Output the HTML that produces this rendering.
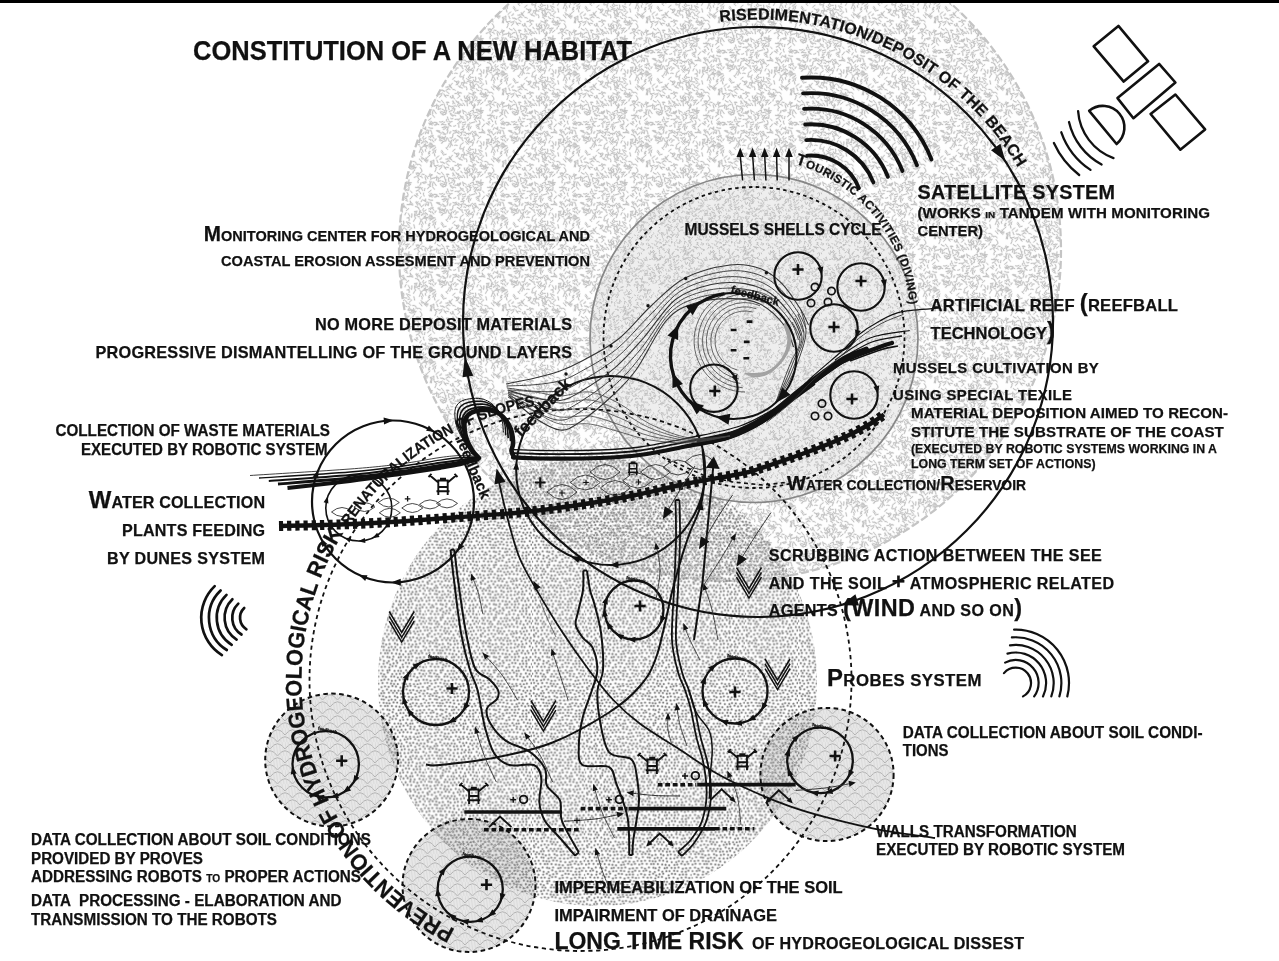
<!DOCTYPE html>
<html lang="en"><head><meta charset="utf-8"><title>Constitution of a new habitat</title>
<style>html,body{margin:0;padding:0;background:#fff;overflow:hidden}svg{display:block;filter:grayscale(1)}text{font-family:"Liberation Sans",Arial,sans-serif;font-weight:bold;fill:#111;stroke:#111;stroke-width:0.25px}</style></head>
<body>
<svg width="1279" height="961" viewBox="0 0 1279 961">
<defs>
<pattern id="pA" width="72" height="72" patternUnits="userSpaceOnUse"><rect width="72" height="72" fill="#fefefe"/><path d="M10.6 60.1Q9.7 60.9 8.7 61.9M45.9 56.5Q47.7 56.6 47.9 57.1M54.6 -1.6Q54.2 1.2 55.2 1.9M54.6 70.4Q54.2 73.2 55.2 73.9M63.3 2.1Q66 1.9 66.5 2.3M63.3 74.1Q66 73.9 66.5 74.3M14.4 30.3Q15.4 30.4 16.8 30.5M15.6 15.7Q16.3 15.5 17.9 17.6M60.8 39Q61.5 40.9 59.8 41.2M9.8 22.6Q9.8 23.8 7.6 25.3M58.8 46.9Q60.7 49.1 60.7 49.6M35.1 42.3Q37.1 42.2 37.6 42.5M13.5 38.1Q12.2 39.4 11.4 40.9M36.7 54.6Q36.6 54.9 36.5 57.5M4.8 50.6Q2.9 49.9 1.5 50.7M76.8 50.6Q74.9 49.9 73.5 50.7M37.4 69.7Q37 70.1 35 71.8M37.4 -2.3Q37 -1.9 35 -0.2M37.4 67.1Q36.4 68.7 36.6 70M37.4 -4.9Q36.4 -3.3 36.6 -2M70.4 -0.8Q69.8 1 67.4 1.6M70.4 71.2Q69.8 73 67.4 73.6M-1.6 -0.8Q-2.2 1 -4.6 1.6M-1.6 71.2Q-2.2 73 -4.6 73.6M58.5 35.9Q57.2 38.2 58 38.8M41.1 12.9Q40.7 14 41 15.9M39.3 43.5Q37.6 44.2 38.3 46.3M14.5 41.3Q13.5 42.8 11.1 42.9M18.9 59.7Q17.2 59.4 17.8 61.5M52.8 17.4Q54 16.9 56 18.5M10.4 37.3Q12 37.9 12.6 38.6M21.8 34Q23 33.4 24.6 34.2M7.9 63.6Q8.1 65.5 7.8 66M-0.1 0.5Q0.7 1.8 3.1 2.1M-0.1 72.5Q0.7 73.8 3.1 74.1M71.9 0.5Q72.7 1.8 75.1 2.1M71.9 72.5Q72.7 73.8 75.1 74.1M47.2 37.9Q49.5 39.3 50.4 40.5M15.5 45.1Q15.6 47 16.6 48.2M6.2 21.3Q3.8 22.4 2.3 21.7M23.4 66.6Q21.8 66.4 21.3 68.7M65 1.6Q63.4 1.9 61.5 3.8M65 73.6Q63.4 73.9 61.5 75.8M63.4 68.9Q62.2 69.7 61.5 71.4M63.4 -3.1Q62.2 -2.3 61.5 -0.6M14.6 47.4Q13.9 48.9 15.1 49.7M20.3 34.3Q22.3 34.8 22.3 37.7M16.3 23.5Q14.1 22.9 12.6 23.7M49.9 60Q49.5 60.8 47.2 60.6M33.6 69.7Q33.9 70.2 36.2 72.2M33.6 -2.3Q33.9 -1.8 36.2 0.2M66.8 14.2Q66.4 15 64.4 16.5M26 20.3Q25.6 21.9 23 21.6M8.8 39.3Q8.7 40.6 10.7 40M55.9 58.2Q57.4 59.4 57.5 61.1M39.8 15.8Q42 16.3 42.3 16.4M65.4 31.5Q67.4 31.8 67.8 34.4M46.4 5.9Q47.2 6 50.1 7.3M70 29.9Q70.5 30.9 72.3 30.7M-2 29.9Q-1.5 30.9 0.3 30.7M6.6 63.7Q8.4 65.1 8.2 67.5M16.6 33.8Q17.1 33.2 19.9 34.9M71.2 19.9Q70.3 20.2 70.3 22.7M-0.8 19.9Q-1.7 20.2 -1.7 22.7M66.9 69.7Q65.1 70.1 64.6 69.9M66.9 -2.3Q65.1 -1.9 64.6 -2.1M71.5 37.7Q70 39.2 69.6 40.5M-0.5 37.7Q-2 39.2 -2.4 40.5M20.9 17.4Q23.3 17.6 23.4 18.1M48.3 46.1Q46.5 45.9 45.5 46.6M24.1 60.6Q22.4 61.1 21.5 61.4M41 42.2Q41.1 41.9 42.4 43.6M38 4.7Q39.2 5.8 41.3 5.5M34.1 61.4Q36.2 61.1 36.9 62.8M69.9 11.1Q69.1 12 66.8 13.8M-2.1 11.1Q-2.9 12 -5.2 13.8M9 36.7Q8.6 36.2 6.4 37.4M64.5 0.6Q66.3 3.3 66.6 4M64.5 72.6Q66.3 75.3 66.6 76M61.2 52.7Q60.4 52.9 59.9 54.7M50.7 47.3Q52.6 48.8 52.2 48.8M40.9 38.3Q39.3 38.6 38.2 39.7M19.2 0.5Q18.7 0.7 17.9 3.1M19.2 72.5Q18.7 72.7 17.9 75.1M24.4 9.5Q26.3 9.7 26.7 10.4M28.1 43.4Q28.9 44.1 29.6 44.8M47.7 30.1Q46.1 31.5 45.7 33.1M34 14.6Q35.5 17.2 34.9 17.8M18.7 46.4Q19.8 47.4 20.9 46.7M12.7 54.7Q11.9 56 10.2 55.6M27.9 49.3Q27.6 51.4 25.6 51.7M68 40.5Q68.4 41.3 70.2 41.8M-4 40.5Q-3.6 41.3 -1.8 41.8M55.5 2.2Q54.2 3.8 53.6 5.3M55.5 74.2Q54.2 75.8 53.6 77.3M9.8 52.3Q12.6 52.9 13.9 52.8M20.4 65.6Q19.9 66.5 18.1 65.9M47.2 48.4Q48.6 50.1 47.8 52.4M56.6 30.5Q56.9 32.2 59 31.8M69.5 7.2Q68.2 8.1 68.6 10M-2.5 7.2Q-3.8 8.1 -3.4 10M16.7 54Q17.7 52.8 19.1 54M46.2 43Q44.7 43.7 44.1 44.2M18.4 40.9Q20.4 42.9 20.9 43.4M70 37.3Q70.7 39.4 70.2 41.2M-2 37.3Q-1.3 39.4 -1.8 41.2M25.8 19.8Q26.7 21 29.4 21.1M40.8 68.1Q38.4 69.5 37.7 70.9M40.8 -3.9Q38.4 -2.5 37.7 -1.1M41.2 21Q41.3 21.2 41.2 23.8M31 31.2Q32.5 32.8 32.7 33.5M35 45.5Q34.3 46.1 35.9 47.8M44.4 62.7Q44.2 63.4 41.7 64.3M61.5 27.9Q59.6 28.7 58.6 30.9M44.2 37.3Q44.4 38.1 45.1 39.1M29.7 60.3Q30.1 62.6 28.7 63.8M36.2 52.1Q35.8 53.5 34.7 55.2M47.1 45.3Q46.1 46.3 43.5 46M58.1 42.4Q59.2 44.5 59.3 44.7M40.5 10.2Q39.1 9.9 37.9 11.7M36.4 52.3Q37.1 52.5 37.1 55M37.3 66.9Q37 68.4 35.7 69.3M37.3 -5.1Q37 -3.6 35.7 -2.7M16.3 14.5Q14 15.7 13.8 15.4M37.7 24.7Q36.9 26.9 37.6 28.3M50.3 57.4Q50.7 58.8 52.5 59.9M13.7 56.3Q11.7 58 11.2 57.4M48.9 60.6Q51.2 60.3 52.9 60.9M32 54.1Q31.4 54 30.1 55.6M71.8 31.5Q70.3 31.4 68.3 32.4M-0.2 31.5Q-1.7 31.4 -3.7 32.4M36.3 9.2Q37.6 10.6 39.5 10.7M18.2 50.7Q16.4 51.5 16.5 52.7M34.6 6.6Q35.7 8.1 36.3 7.8M16.7 1Q16.7 2.8 14.5 4M16.7 73Q16.7 74.8 14.5 76M23 59.7Q23.7 60.1 26.3 61M34.6 26.6Q36.4 27.1 36.7 27.8M42.6 14.2Q42 16.2 40.9 16.3M73.2 2.2Q71.2 3 70 4.5M73.2 74.2Q71.2 75 70 76.5M1.2 2.2Q-0.8 3 -2 4.5M1.2 74.2Q-0.8 75 -2 76.5M41.2 64.3Q42.4 65.3 42.4 68M64.2 0.3Q64.7 0.8 67.3 1.9M64.2 72.3Q64.7 72.8 67.3 73.9M11.1 32.4Q8.2 32.3 7.6 34.3M59.8 2.2Q59.5 1.9 61.3 3.9M59.8 74.2Q59.5 73.9 61.3 75.9M47 52Q46.3 53.3 44.8 55.2M46 68.7Q44.4 70.9 44.9 71M46 -3.3Q44.4 -1.1 44.9 -1M43 23.6Q42.6 24.1 42 26.7M23.8 28.6Q25.3 30.1 27 30.9M52.5 52.1Q50.8 54.7 50.2 54.9M12.6 65.3Q9.8 65.2 9.1 67M57.7 31.9Q57.4 33.9 59.4 35.7M31.3 7.5Q32.8 8.1 32.5 10.9M38.7 5.9Q36.6 6.2 36.9 7.1M51 21.8Q53.5 23.4 54.5 23.3M20.7 29.5Q21.5 30.2 23 31.7M56.7 67.8Q56.8 68.7 56.1 69.9M56.7 -4.2Q56.8 -3.3 56.1 -2.1M72.7 50.9Q71.2 52.7 69.6 52.7M0.7 50.9Q-0.8 52.7 -2.4 52.7M58.6 20.3Q59.9 20 61.1 21.6M23 41.1Q25.2 40.9 26.7 41.7M20.5 23.8Q21.5 25.5 22.4 26.9M10 64.7Q9.7 67 11.4 67M36.6 65.3Q35.3 66.7 32.5 66.2M65 57.1Q66.6 58.9 67.8 58.3M57.4 49.6Q57.5 51 55.5 51.6M30.6 33.3Q28.2 32.6 27.4 33.5M50.6 40.2Q49.3 41.1 48.3 40.9M3.8 5.9Q2.7 6.6 3.4 8.4M75.8 5.9Q74.7 6.6 75.4 8.4M44.5 37.6Q46.4 38.2 46.6 38.2M11.1 62Q13.3 62.6 13.9 62.1M21 62.3Q21.4 64 19.8 66M50.5 38.9Q49.2 40 46.8 39.5M70.4 17.4Q72.5 18.5 73.3 19.5M-1.6 17.4Q0.5 18.5 1.3 19.5M36.8 28.4Q35.3 28 33.3 29.7M60.2 32.3Q61.7 31.8 62.4 33.8M10.4 21.2Q9.8 21.9 6.9 22.4M41.3 38.1Q41.9 40.8 41.1 41.3M28.6 44.3Q29.4 45.6 30.2 46.5M38.1 69.5Q40.8 70.9 41.1 71.1M38.1 -2.5Q40.8 -1.1 41.1 -0.9M40.1 24.6Q41.7 26.9 41.4 28.5M66 66Q64.6 67.3 63.5 67.3M26.7 52.6Q26.7 53 26.9 55.3M24.3 29.8Q24.9 30.8 26.7 30M43.7 20.7Q42.5 21.2 41.2 20.7M50.9 30.2Q50.3 31.2 48.6 32.2M68.9 51.2Q71.1 50.9 71 51.9M-3.1 51.2Q-0.9 50.9 -1 51.9M1.8 16.2Q1.6 18.8 2 20.3M73.8 16.2Q73.6 18.8 74 20.3M60.8 4.5Q60.2 6.5 59.4 8.4M26.1 68Q25.1 67.9 23.9 68.2M26.1 -4Q25.1 -4.1 23.9 -3.8M47.5 7.6Q48.3 9.2 49.2 9.5M62.3 55.7Q61.5 57 61.2 57.6M22.3 36.2Q22 35.6 20.1 36.9M26.5 64.3Q27.6 66.1 29.1 66.1M71.4 18.8Q71.5 20.1 71.5 22.8M-0.6 18.8Q-0.5 20.1 -0.5 22.8M54.7 23.3Q55.9 24.6 54.7 25.3M65.6 68.6Q66.5 70.4 67.7 70.9M65.6 -3.4Q66.5 -1.6 67.7 -1.1M59.5 15.1Q60.4 15.6 61.8 17.8M14.7 38.4Q14.1 40.6 13.4 42.3M9.6 28.4Q10.2 29.1 11.8 31.2M25.7 32.4Q25.7 34.8 27.3 35.3M48.6 38.3Q50.4 38.9 51.3 38.7M57.6 62.9Q58.1 63.3 59.3 65.5M8.6 18Q10.6 18.6 11.6 18.9M48 15.3Q50.2 16.1 50.6 17.2M-0.7 0.1Q-0.7 0.8 1.3 2.8M-0.7 72.1Q-0.7 72.8 1.3 74.8M71.3 0.1Q71.3 0.8 73.3 2.8M71.3 72.1Q71.3 72.8 73.3 74.8M48.2 69.5Q49.1 69.8 49.8 72.4M48.2 -2.5Q49.1 -2.2 49.8 0.4M22.4 8.7Q24.2 8.9 25.1 11.3M4.3 51.8Q5 51.1 6.8 52.6M1.6 8.1Q2.6 9.4 2.9 11.9M73.6 8.1Q74.6 9.4 74.9 11.9M49 18.3Q50 19.3 48.9 21.1M59.3 45.4Q58.7 45.9 56.4 47M49 43.1Q49 44.4 48.7 46.3M64.8 44.5Q64.7 44.8 64.5 46.6M15.7 30Q14.9 31.4 15.3 32.6M32.7 28.6Q34.4 29.1 35.4 29.5M40.4 59.4Q38.1 60.3 38.1 62.1M50.2 10.9Q50 10.5 48 11.5M59.6 59.4Q59.8 61.9 61.6 62.8M25.9 31.1Q26.9 32.1 29 32.3M55.5 43.4Q58.6 43.8 59.6 43.5M28.7 39.9Q28 40.7 25.9 41M29.9 65.6Q29.3 67.1 30.9 68.8M1.6 50.7Q1.8 49.8 3.7 50.7M73.6 50.7Q73.8 49.8 75.7 50.7M35.2 24.1Q37.6 26 38 27.2M56.4 57.7Q57.1 59.2 59.1 60.3M27.3 10.1Q25.3 12.3 24.2 12.7M26.8 47.3Q23.9 47.2 23.1 47.4M28.3 20.4Q27.6 21.5 25.8 22M38.4 2.3Q36.6 4.4 36.3 5.7M36.4 22.9Q33.9 25.5 33.8 26.2M26.1 59.1Q26.6 59.6 29.1 61M71 46.3Q69.8 47.3 68.7 48.2M-1 46.3Q-2.2 47.3 -3.3 48.2M54.4 51.2Q55.8 52.2 56.9 52.9M65.5 59.8Q65.8 59.3 68 61.1M6.7 12Q6.1 12.7 4.1 14.3M12.9 68.9Q10 69.7 9.5 71.1M12.9 -3.1Q10 -2.3 9.5 -0.9M47.2 52.6Q45.4 51.8 44.1 53.4M59.5 70.2Q57.5 70.1 56.2 71.2M59.5 -1.8Q57.5 -1.9 56.2 -0.8M57 67.2Q56 67.4 54.6 67.5M32.5 56.8Q31.3 57.7 29 57.6M45.7 37.3Q46.1 39 48.4 40M28.5 38.9Q29 39.7 27.2 41.7M0.1 67.7Q0.7 69 1.6 69.9M0.1 -4.3Q0.7 -3 1.6 -2.1M72.1 67.7Q72.7 69 73.6 69.9M72.1 -4.3Q72.7 -3 73.6 -2.1M70.1 49.6Q70.9 50.9 71.9 52.3M-1.9 49.6Q-1.1 50.9 -0.1 52.3M29.6 10.7Q29.3 12.8 30.5 13.4M26.3 9Q26.6 11.2 25.5 12.8M51.5 23.6Q52.3 23.7 53.8 24.8M32.5 10.2Q33 11.5 34.9 11.2M38.3 12.4Q38.9 14.4 39.1 16.2M28.6 13.1Q28.9 13 27.8 15.1M54.6 26.2Q52.8 27.6 52.8 28.9M4.9 16.1Q5.7 18.5 5.8 18.6M24.3 59.2Q25.3 60.5 27 61.5M5.2 58.6Q5.9 60.3 7.6 60.5M43.6 43.4Q41.6 45.1 41.7 45.2M24.4 58.3Q21.8 59.3 21 58.7M44.4 16.8Q44.7 18.7 46.8 18.7M50.2 57.1Q50.1 59.5 51.7 60.9M17.2 -0.2Q19 -0 19.5 0.7M17.2 71.8Q19 72 19.5 72.7M33.6 42.9Q35.1 45.2 35.8 45.4M38 61.4Q36 61 34.4 61.8M5.6 59.2Q6.9 58.7 8.5 60.5M15.7 57.2Q16.4 58.3 15.2 61.3M48.5 1.6Q49.9 3.3 49.2 4.5M48.5 73.6Q49.9 75.3 49.2 76.5M13.8 35.5Q13.3 37.6 13.6 37.9M68.7 55.5Q70.6 56.7 72.6 56.3M-3.3 55.5Q-1.4 56.7 0.6 56.3M14 10.3Q11.6 10.6 11.5 11M70.7 58.2Q72 61 72 62.1M-1.3 58.2Q0 61 -0 62.1M48 28Q47.6 28.5 45.1 28.8M65.1 32.8Q65.1 33.5 65.9 36M41.2 59.8Q43.1 61.9 43.7 62.8M31.2 70.9Q29 72.1 28.6 72.9M31.2 -1.1Q29 0.1 28.6 0.9M0.3 63.7Q1.2 65.3 1.7 66.2M72.3 63.7Q73.2 65.3 73.7 66.2M42.7 33.2Q41.8 34.9 41.2 36.7M57.2 -0.4Q57.7 1.2 59.5 0.9M57.2 71.6Q57.7 73.2 59.5 72.9M9.8 6.5Q11.4 9 11.5 9.1M60.3 43.7Q61.6 44.6 62.4 44M19.4 68.2Q19.4 68.8 18.9 71.4M19.4 -3.8Q19.4 -3.2 18.9 -0.6M11.5 66.6Q11.7 67.9 13 68.2M17.9 14Q19.5 14.7 19.9 16.3M63.8 69.7Q62.4 71.3 62 70.8M63.8 -2.3Q62.4 -0.7 62 -1.2M61.6 8.2Q62.5 8.5 62.1 11M23.7 53.6Q22.9 54.4 21.7 54.3M64.1 30.5Q61.9 29.7 61.6 30.7M41.4 7.9Q41.2 9.9 43.1 9.7M24.9 68.5Q25.2 68.2 23.3 70.4M24.9 -3.5Q25.2 -3.8 23.3 -1.6M69.6 1.2Q69.5 3 71.8 3.5M69.6 73.2Q69.5 75 71.8 75.5M-2.4 1.2Q-2.5 3 -0.2 3.5M-2.4 73.2Q-2.5 75 -0.2 75.5M4.5 58.7Q5.4 58.3 7.7 59M34.7 25.1Q34.6 26 35.9 28.4M50.7 21.1Q49.2 20.2 47.8 21.7M2.2 5.9Q2.6 7.4 0.8 9.1M74.2 5.9Q74.6 7.4 72.8 9.1M49.5 24.4Q51.4 25.5 52.4 25.1M68.9 58.3Q68.5 59.9 68.2 61.5M-3.1 58.3Q-3.5 59.9 -3.8 61.5M50.3 40.8Q48.9 42.2 47.6 42.1M49 35.9Q48.9 37.2 48.3 39.6M20.8 43.3Q23.3 42.9 23.8 43.7M33.7 50Q32.3 50.1 30.3 50.8M30.7 44.5Q30.3 46.8 32.3 47.9M52.1 22Q53.6 22.8 54.8 22.1M61.6 14.7Q63.8 15.4 63.8 15.3M10.9 49.5Q8.6 50.8 7.6 49.9M51.6 12.1Q50.6 12.9 49.3 14.2M21.3 28.8Q22 29.2 21 31.8M14.9 65.9Q14.6 66.9 13.8 69.1M26.6 14.2Q29 16 30.3 16.1M-0.8 49.4Q0.5 49.6 1 52M71.2 49.4Q72.5 49.6 73 52M28.1 39.3Q26.3 40.1 25.3 40.5M42.2 19.8Q40.8 20.6 41.8 22.3M6.2 33.5Q6.8 36 6.2 37.4M70.8 17.9Q70.3 19.1 71.7 20.2M-1.2 17.9Q-1.7 19.1 -0.3 20.2M38.8 8.8Q35.8 8.1 34.8 9.8M5.4 52.2Q3.3 52.8 3.5 53.2M22.7 1.3Q23.2 0.9 25.2 1.4M22.7 73.3Q23.2 72.9 25.2 73.4M38.7 17.3Q40.6 17.5 40.6 18.9M39.3 31.3Q38.8 31.8 40.7 33.8M45.2 54.1Q47.1 53.9 47 55.6M55.5 62.4Q56.4 62.1 58.9 64.1M21 23.4Q21.3 25.2 20.2 26.2M9.4 13.8Q9.7 15.3 7.8 15.4M14.8 19.6Q15.2 19.5 16.9 21.6M17.4 12.7Q19 14.4 18.8 15.4M43.8 60.9Q43.7 63 44.8 63.6M63.5 64.5Q62.1 66.3 62.8 66.6M65.7 37.8Q64.4 38 61.8 38.8M32.4 23.9Q31.7 24.4 33.3 26.8M13.7 40.1Q11.3 40.7 10.5 41.5M43.5 9.3Q44.5 10.1 46.8 10.1M11.5 60.4Q12.5 62.6 13.2 62.8M66.6 59.9Q65.2 60.9 65.4 61.7M69.8 51.5Q72 52.3 72.1 53.1M-2.2 51.5Q0 52.3 0.1 53.1M64 60.7Q63.1 61.4 61.4 62.8M7.4 68.2Q8.9 69.4 10 68.4M7.4 -3.8Q8.9 -2.6 10 -3.6M16.3 17.2Q14.9 17.4 13.9 18.4M4.1 67Q2.6 66.9 3 68.6M76.1 67Q74.6 66.9 75 68.6M25.4 63.6Q26.1 64.1 27.7 64.6M66.4 38.4Q64.7 39.7 63.4 39.3M41.9 32.8Q41.7 33.2 41.8 35.6M13.7 54.4Q14 54.6 15.9 55.4M4.1 24.3Q4.4 25 3 27.6M76.1 24.3Q76.4 25 75 27.6M45.6 12.7Q47.2 14.5 47.1 15.6M70.1 0Q69.8 0.2 71.8 2.6M70.1 72Q69.8 72.2 71.8 74.6M-1.9 0Q-2.2 0.2 -0.2 2.6M-1.9 72Q-2.2 72.2 -0.2 74.6M25.4 39.8Q26 40.8 27.4 40.7M41.5 69.9Q41 71.7 40.2 73.6M41.5 -2.1Q41 -0.3 40.2 1.6M28.2 4.8Q30.8 4 31.6 5.5M11.9 22Q12.4 23.1 14 25.2M34.1 67.1Q34 68.3 36.1 69.8M34.1 -4.9Q34 -3.7 36.1 -2.2M66 14.1Q66.9 15.8 67.5 17.2M43.1 47.5Q43.6 48.7 44.5 49.8M40.3 61.5Q41.6 64.1 41.3 64.3M16.2 51.3Q16.4 52.6 18.8 53.9M42.8 49.9Q41.2 50.4 39.2 50.9M1.3 38Q0.1 40 0.6 41.6M73.3 38Q72.1 40 72.6 41.6M5 51.5Q4.2 52.7 2.5 53.1M77 51.5Q76.2 52.7 74.5 53.1M22.9 5.4Q21 6.2 20.8 7.3M60.4 66.7Q59.2 68.7 59.5 70.7M60.4 -5.3Q59.2 -3.3 59.5 -1.3M1.6 16.4Q1 16.9 -0.4 17.2M73.6 16.4Q73 16.9 71.6 17.2M69.9 71.1Q72.3 71.1 72.3 72M69.9 -0.9Q72.3 -0.9 72.3 0M-2.1 71.1Q0.3 71.1 0.3 72M-2.1 -0.9Q0.3 -0.9 0.3 0M13.5 64.4Q13.1 65.5 12.5 66.9M31.5 38.9Q34.1 40 34.4 40.6M55.8 19.9Q57.9 19.4 57.6 20.8M28.5 45.9Q27.2 47.9 26.2 48.4M30.1 59.8Q30.9 59.9 33.6 60.4M31.6 11.2Q30.8 12.4 32.2 15M69.6 30.5Q70.9 31.6 70.9 34.3M-2.4 30.5Q-1.1 31.6 -1.1 34.3M44.3 11.9Q43.8 11.9 41.8 14M68.1 15.9Q67.7 15.6 65.5 17.2M5.3 33.4Q3.9 32.9 2.4 34M77.3 33.4Q75.9 32.9 74.4 34M40.7 30.1Q38.9 29.9 37.3 31.4M10.9 68.8Q11.3 69.2 10.1 71.1M10.9 -3.2Q11.3 -2.8 10.1 -0.9M31.6 62.8Q31.6 62.3 33.7 63.5M26.3 22.4Q26.9 23 27.6 23.9M53.7 20.5Q53.9 21 53 23.1M35 30.5Q35.3 31.7 35.4 33.7M59.6 66.8Q59.9 68.1 59 70.2M59.6 -5.2Q59.9 -3.9 59 -1.8M42.6 31.9Q42.7 32.6 42.7 34.7M17.7 13.2Q18 15.4 17 15.6M56.1 23.4Q54.4 23.9 53.3 23.9M49.1 28.2Q47.1 28.8 46 30.6M29.2 49.3Q28.3 51.3 28 51.3M70.6 42.3Q68.4 42.5 67.6 44.7M-1.4 42.3Q-3.6 42.5 -4.4 44.7M44.8 26.7Q43.9 28.4 43.2 28.7M5.3 28.6Q7.3 30.5 8.1 30.1M53.9 8.8Q54.6 10.9 54.6 12M69.1 67.1Q71.2 67 71 68.6M-2.9 67.1Q-0.8 67 -1 68.6M70 7.5Q68.8 8.2 69.4 9.7M-2 7.5Q-3.2 8.2 -2.6 9.7M56.5 49.6Q56.8 49.8 57.8 51.5M16.8 33.8Q15.9 35.9 17 37.8M40.2 9.2Q41.6 9.9 41.2 11.3M4.8 32.2Q5.2 33.5 4.5 36.2M66 -0.5Q66.2 -0.4 64.8 1.2M66 71.5Q66.2 71.6 64.8 73.2M58.2 57.8Q57.2 57.6 56.6 59.3M51.9 69.9Q52.1 70.7 51.6 73.3M51.9 -2.1Q52.1 -1.3 51.6 1.3M27.8 24.1Q26.4 25.2 25.7 26.1M14.1 4Q15.2 4.6 15.6 5.4M42.5 40.6Q45.2 39.7 46.3 41.2M30.5 54.7Q31.4 57 31.5 58.4M65.5 55.1Q65.1 56.5 64.9 57.1M36.8 40.4Q37.1 42.4 38.5 43.8M30.3 10.6Q30.9 10.6 32.6 10.8M3.6 3.6Q1.8 4.8 0.3 6.1M75.6 3.6Q73.8 4.8 72.3 6.1M43.6 5.2Q44.5 7.3 43.2 8.7M40.7 29.1Q39.2 30.1 37.7 30M32.1 3Q31.2 3.9 31 6.7M6 64.7Q6.6 65.3 9.2 65.8M64.7 15.5Q65.8 17 66.6 18.3M28.6 1.7Q28.5 2.8 27.8 4.2M28.6 73.7Q28.5 74.8 27.8 76.2M18.2 69.9Q19.3 71.8 20.4 73.4M18.2 -2.1Q19.3 -0.2 20.4 1.4M20.3 11.3Q19.6 11.8 18.5 13.7M38 46.2Q36.5 47.9 35.5 48.6M43.5 33.1Q41.9 33.5 42.4 35.6M71.1 63.6Q70.8 65 68.9 64.9M-0.9 63.6Q-1.2 65 -3.1 64.9M37 21.1Q40.2 22.7 40.9 22.5M33.6 52.1Q31.2 53.7 30.6 53M39.1 54.4Q38.6 54.2 38.3 56.4M20.1 67.9Q18.2 69.7 18.2 70.6M20.1 -4.1Q18.2 -2.3 18.2 -1.4M44.7 44.2Q43.5 46.2 42.5 47.6M38.8 41.4Q37.1 41.5 37.5 43.4M2 38.4Q2.3 39.1 4.1 41.5M74 38.4Q74.3 39.1 76.1 41.5M61.5 4.9Q62.5 5.9 63.1 8M8.3 40.2Q9.1 42.6 11.1 43M0.6 42.8Q1.4 44.7 2.5 45.2M72.6 42.8Q73.4 44.7 74.5 45.2M11.6 55.1Q14.1 55.1 15 55.5M60.3 23.7Q62.3 26.2 62 27.3M15.7 66.1Q16.1 67.2 17.3 69.6M20.1 49.6Q17.6 50.2 17 49.8M63.4 56.3Q65.4 56.8 66 56.3M73.1 63.6Q71.4 63.6 70.3 65.7M1.1 63.6Q-0.6 63.6 -1.7 65.7M56.4 32.4Q56.2 33.3 54.3 33.4M63.5 49Q62.8 49.9 64.1 52M40.7 11.3Q41.6 13.7 42.1 14.3M30.7 38.1Q31.5 40.9 31.6 41.6M9.2 7.8Q10.5 8.4 11.2 10.5M18.3 41.5Q18.6 43.5 20.8 44.3M12.6 50.1Q12 50.3 9.4 52.7M48.7 64.6Q48.2 65 46.5 66.5M58.8 29.2Q58 28.4 56.8 29.4M55.1 68Q54.5 68.7 55.2 71.8M55.1 -4Q54.5 -3.3 55.2 -0.2M56.2 29.1Q58.8 28.6 59.5 30M42.9 24.9Q42.9 24.6 45 25.2M22.9 36.9Q23 37.9 21.5 40.5M44 61.9Q46.4 63.4 46.4 64.3M52.4 22.3Q50.1 21.9 48.6 22.4M2.1 33.9Q-0.5 34 -1.4 35.4M74.1 33.9Q71.5 34 70.6 35.4M10.7 18Q11.7 19.7 12.6 19.4M60.4 43.1Q60.8 43.6 62.6 46.4M16.3 55.8Q14.9 57.2 14.8 58M36.6 56.1Q35.8 56.5 37 58.3M37.9 50.5Q38.8 51.4 37.5 52.5M38 13Q39.2 14.8 39.8 14.7M18.4 24.4Q17.8 25.8 19.7 26M68.9 2.7Q69.9 2.4 71.8 3.4M68.9 74.7Q69.9 74.4 71.8 75.4M-3.1 2.7Q-2.1 2.4 -0.2 3.4M-3.1 74.7Q-2.1 74.4 -0.2 75.4M61 12.8Q62.9 14.3 64.3 15M49.2 1.8Q47.5 1.8 47.1 1.9M49.2 73.8Q47.5 73.8 47.1 73.9M59.2 68.3Q59.1 67.5 61.5 68.4M59.2 -3.7Q59.1 -4.5 61.5 -3.6M65.9 4.9Q64.6 5.6 65.6 7.3M20.1 38.5Q18.7 38.6 17.2 39.7M12.3 32.6Q12.3 33.4 13.6 36.4M2.6 21.9Q4.6 23.4 4.8 23.7M74.6 21.9Q76.6 23.4 76.8 23.7M43.7 59.5Q43.2 59 41.7 60.3M28.9 27.3Q28.8 28.5 30.3 28.8" fill="none" stroke="#c2c2c2" stroke-opacity="0.2" stroke-width="2.1" stroke-linecap="round"/><path d="M10.6 60.1Q9.7 60.9 8.7 61.9M45.9 56.5Q47.7 56.6 47.9 57.1M54.6 -1.6Q54.2 1.2 55.2 1.9M54.6 70.4Q54.2 73.2 55.2 73.9M63.3 2.1Q66 1.9 66.5 2.3M63.3 74.1Q66 73.9 66.5 74.3M14.4 30.3Q15.4 30.4 16.8 30.5M15.6 15.7Q16.3 15.5 17.9 17.6M60.8 39Q61.5 40.9 59.8 41.2M9.8 22.6Q9.8 23.8 7.6 25.3M58.8 46.9Q60.7 49.1 60.7 49.6M35.1 42.3Q37.1 42.2 37.6 42.5M13.5 38.1Q12.2 39.4 11.4 40.9M36.7 54.6Q36.6 54.9 36.5 57.5M4.8 50.6Q2.9 49.9 1.5 50.7M76.8 50.6Q74.9 49.9 73.5 50.7M37.4 69.7Q37 70.1 35 71.8M37.4 -2.3Q37 -1.9 35 -0.2M37.4 67.1Q36.4 68.7 36.6 70M37.4 -4.9Q36.4 -3.3 36.6 -2M70.4 -0.8Q69.8 1 67.4 1.6M70.4 71.2Q69.8 73 67.4 73.6M-1.6 -0.8Q-2.2 1 -4.6 1.6M-1.6 71.2Q-2.2 73 -4.6 73.6M58.5 35.9Q57.2 38.2 58 38.8M41.1 12.9Q40.7 14 41 15.9M39.3 43.5Q37.6 44.2 38.3 46.3M14.5 41.3Q13.5 42.8 11.1 42.9M18.9 59.7Q17.2 59.4 17.8 61.5M52.8 17.4Q54 16.9 56 18.5M10.4 37.3Q12 37.9 12.6 38.6M21.8 34Q23 33.4 24.6 34.2M7.9 63.6Q8.1 65.5 7.8 66M-0.1 0.5Q0.7 1.8 3.1 2.1M-0.1 72.5Q0.7 73.8 3.1 74.1M71.9 0.5Q72.7 1.8 75.1 2.1M71.9 72.5Q72.7 73.8 75.1 74.1M47.2 37.9Q49.5 39.3 50.4 40.5M15.5 45.1Q15.6 47 16.6 48.2M6.2 21.3Q3.8 22.4 2.3 21.7M23.4 66.6Q21.8 66.4 21.3 68.7M65 1.6Q63.4 1.9 61.5 3.8M65 73.6Q63.4 73.9 61.5 75.8M63.4 68.9Q62.2 69.7 61.5 71.4M63.4 -3.1Q62.2 -2.3 61.5 -0.6M14.6 47.4Q13.9 48.9 15.1 49.7M20.3 34.3Q22.3 34.8 22.3 37.7M16.3 23.5Q14.1 22.9 12.6 23.7M49.9 60Q49.5 60.8 47.2 60.6M33.6 69.7Q33.9 70.2 36.2 72.2M33.6 -2.3Q33.9 -1.8 36.2 0.2M66.8 14.2Q66.4 15 64.4 16.5M26 20.3Q25.6 21.9 23 21.6M8.8 39.3Q8.7 40.6 10.7 40M55.9 58.2Q57.4 59.4 57.5 61.1M39.8 15.8Q42 16.3 42.3 16.4M65.4 31.5Q67.4 31.8 67.8 34.4M46.4 5.9Q47.2 6 50.1 7.3M70 29.9Q70.5 30.9 72.3 30.7M-2 29.9Q-1.5 30.9 0.3 30.7M6.6 63.7Q8.4 65.1 8.2 67.5M16.6 33.8Q17.1 33.2 19.9 34.9M71.2 19.9Q70.3 20.2 70.3 22.7M-0.8 19.9Q-1.7 20.2 -1.7 22.7M66.9 69.7Q65.1 70.1 64.6 69.9M66.9 -2.3Q65.1 -1.9 64.6 -2.1M71.5 37.7Q70 39.2 69.6 40.5M-0.5 37.7Q-2 39.2 -2.4 40.5M20.9 17.4Q23.3 17.6 23.4 18.1M48.3 46.1Q46.5 45.9 45.5 46.6M24.1 60.6Q22.4 61.1 21.5 61.4M41 42.2Q41.1 41.9 42.4 43.6M38 4.7Q39.2 5.8 41.3 5.5M34.1 61.4Q36.2 61.1 36.9 62.8M69.9 11.1Q69.1 12 66.8 13.8M-2.1 11.1Q-2.9 12 -5.2 13.8M9 36.7Q8.6 36.2 6.4 37.4M64.5 0.6Q66.3 3.3 66.6 4M64.5 72.6Q66.3 75.3 66.6 76M61.2 52.7Q60.4 52.9 59.9 54.7M50.7 47.3Q52.6 48.8 52.2 48.8M40.9 38.3Q39.3 38.6 38.2 39.7M19.2 0.5Q18.7 0.7 17.9 3.1M19.2 72.5Q18.7 72.7 17.9 75.1M24.4 9.5Q26.3 9.7 26.7 10.4M28.1 43.4Q28.9 44.1 29.6 44.8M47.7 30.1Q46.1 31.5 45.7 33.1M34 14.6Q35.5 17.2 34.9 17.8M18.7 46.4Q19.8 47.4 20.9 46.7M12.7 54.7Q11.9 56 10.2 55.6M27.9 49.3Q27.6 51.4 25.6 51.7M68 40.5Q68.4 41.3 70.2 41.8M-4 40.5Q-3.6 41.3 -1.8 41.8M55.5 2.2Q54.2 3.8 53.6 5.3M55.5 74.2Q54.2 75.8 53.6 77.3M9.8 52.3Q12.6 52.9 13.9 52.8M20.4 65.6Q19.9 66.5 18.1 65.9M47.2 48.4Q48.6 50.1 47.8 52.4M56.6 30.5Q56.9 32.2 59 31.8M69.5 7.2Q68.2 8.1 68.6 10M-2.5 7.2Q-3.8 8.1 -3.4 10M16.7 54Q17.7 52.8 19.1 54M46.2 43Q44.7 43.7 44.1 44.2M18.4 40.9Q20.4 42.9 20.9 43.4M70 37.3Q70.7 39.4 70.2 41.2M-2 37.3Q-1.3 39.4 -1.8 41.2M25.8 19.8Q26.7 21 29.4 21.1M40.8 68.1Q38.4 69.5 37.7 70.9M40.8 -3.9Q38.4 -2.5 37.7 -1.1M41.2 21Q41.3 21.2 41.2 23.8M31 31.2Q32.5 32.8 32.7 33.5M35 45.5Q34.3 46.1 35.9 47.8M44.4 62.7Q44.2 63.4 41.7 64.3M61.5 27.9Q59.6 28.7 58.6 30.9M44.2 37.3Q44.4 38.1 45.1 39.1M29.7 60.3Q30.1 62.6 28.7 63.8M36.2 52.1Q35.8 53.5 34.7 55.2M47.1 45.3Q46.1 46.3 43.5 46M58.1 42.4Q59.2 44.5 59.3 44.7M40.5 10.2Q39.1 9.9 37.9 11.7M36.4 52.3Q37.1 52.5 37.1 55M37.3 66.9Q37 68.4 35.7 69.3M37.3 -5.1Q37 -3.6 35.7 -2.7M16.3 14.5Q14 15.7 13.8 15.4M37.7 24.7Q36.9 26.9 37.6 28.3M50.3 57.4Q50.7 58.8 52.5 59.9M13.7 56.3Q11.7 58 11.2 57.4M48.9 60.6Q51.2 60.3 52.9 60.9M32 54.1Q31.4 54 30.1 55.6M71.8 31.5Q70.3 31.4 68.3 32.4M-0.2 31.5Q-1.7 31.4 -3.7 32.4M36.3 9.2Q37.6 10.6 39.5 10.7M18.2 50.7Q16.4 51.5 16.5 52.7M34.6 6.6Q35.7 8.1 36.3 7.8M16.7 1Q16.7 2.8 14.5 4M16.7 73Q16.7 74.8 14.5 76M23 59.7Q23.7 60.1 26.3 61M34.6 26.6Q36.4 27.1 36.7 27.8M42.6 14.2Q42 16.2 40.9 16.3M73.2 2.2Q71.2 3 70 4.5M73.2 74.2Q71.2 75 70 76.5M1.2 2.2Q-0.8 3 -2 4.5M1.2 74.2Q-0.8 75 -2 76.5M41.2 64.3Q42.4 65.3 42.4 68M64.2 0.3Q64.7 0.8 67.3 1.9M64.2 72.3Q64.7 72.8 67.3 73.9M11.1 32.4Q8.2 32.3 7.6 34.3M59.8 2.2Q59.5 1.9 61.3 3.9M59.8 74.2Q59.5 73.9 61.3 75.9M47 52Q46.3 53.3 44.8 55.2M46 68.7Q44.4 70.9 44.9 71M46 -3.3Q44.4 -1.1 44.9 -1M43 23.6Q42.6 24.1 42 26.7M23.8 28.6Q25.3 30.1 27 30.9M52.5 52.1Q50.8 54.7 50.2 54.9M12.6 65.3Q9.8 65.2 9.1 67M57.7 31.9Q57.4 33.9 59.4 35.7M31.3 7.5Q32.8 8.1 32.5 10.9M38.7 5.9Q36.6 6.2 36.9 7.1M51 21.8Q53.5 23.4 54.5 23.3M20.7 29.5Q21.5 30.2 23 31.7M56.7 67.8Q56.8 68.7 56.1 69.9M56.7 -4.2Q56.8 -3.3 56.1 -2.1M72.7 50.9Q71.2 52.7 69.6 52.7M0.7 50.9Q-0.8 52.7 -2.4 52.7M58.6 20.3Q59.9 20 61.1 21.6M23 41.1Q25.2 40.9 26.7 41.7M20.5 23.8Q21.5 25.5 22.4 26.9M10 64.7Q9.7 67 11.4 67M36.6 65.3Q35.3 66.7 32.5 66.2M65 57.1Q66.6 58.9 67.8 58.3M57.4 49.6Q57.5 51 55.5 51.6M30.6 33.3Q28.2 32.6 27.4 33.5M50.6 40.2Q49.3 41.1 48.3 40.9M3.8 5.9Q2.7 6.6 3.4 8.4M75.8 5.9Q74.7 6.6 75.4 8.4M44.5 37.6Q46.4 38.2 46.6 38.2M11.1 62Q13.3 62.6 13.9 62.1M21 62.3Q21.4 64 19.8 66M50.5 38.9Q49.2 40 46.8 39.5M70.4 17.4Q72.5 18.5 73.3 19.5M-1.6 17.4Q0.5 18.5 1.3 19.5M36.8 28.4Q35.3 28 33.3 29.7M60.2 32.3Q61.7 31.8 62.4 33.8M10.4 21.2Q9.8 21.9 6.9 22.4M41.3 38.1Q41.9 40.8 41.1 41.3M28.6 44.3Q29.4 45.6 30.2 46.5M38.1 69.5Q40.8 70.9 41.1 71.1M38.1 -2.5Q40.8 -1.1 41.1 -0.9M40.1 24.6Q41.7 26.9 41.4 28.5M66 66Q64.6 67.3 63.5 67.3M26.7 52.6Q26.7 53 26.9 55.3M24.3 29.8Q24.9 30.8 26.7 30M43.7 20.7Q42.5 21.2 41.2 20.7M50.9 30.2Q50.3 31.2 48.6 32.2M68.9 51.2Q71.1 50.9 71 51.9M-3.1 51.2Q-0.9 50.9 -1 51.9M1.8 16.2Q1.6 18.8 2 20.3M73.8 16.2Q73.6 18.8 74 20.3M60.8 4.5Q60.2 6.5 59.4 8.4M26.1 68Q25.1 67.9 23.9 68.2M26.1 -4Q25.1 -4.1 23.9 -3.8M47.5 7.6Q48.3 9.2 49.2 9.5M62.3 55.7Q61.5 57 61.2 57.6M22.3 36.2Q22 35.6 20.1 36.9M26.5 64.3Q27.6 66.1 29.1 66.1M71.4 18.8Q71.5 20.1 71.5 22.8M-0.6 18.8Q-0.5 20.1 -0.5 22.8M54.7 23.3Q55.9 24.6 54.7 25.3M65.6 68.6Q66.5 70.4 67.7 70.9M65.6 -3.4Q66.5 -1.6 67.7 -1.1M59.5 15.1Q60.4 15.6 61.8 17.8M14.7 38.4Q14.1 40.6 13.4 42.3M9.6 28.4Q10.2 29.1 11.8 31.2M25.7 32.4Q25.7 34.8 27.3 35.3M48.6 38.3Q50.4 38.9 51.3 38.7M57.6 62.9Q58.1 63.3 59.3 65.5M8.6 18Q10.6 18.6 11.6 18.9M48 15.3Q50.2 16.1 50.6 17.2M-0.7 0.1Q-0.7 0.8 1.3 2.8M-0.7 72.1Q-0.7 72.8 1.3 74.8M71.3 0.1Q71.3 0.8 73.3 2.8M71.3 72.1Q71.3 72.8 73.3 74.8M48.2 69.5Q49.1 69.8 49.8 72.4M48.2 -2.5Q49.1 -2.2 49.8 0.4M22.4 8.7Q24.2 8.9 25.1 11.3M4.3 51.8Q5 51.1 6.8 52.6M1.6 8.1Q2.6 9.4 2.9 11.9M73.6 8.1Q74.6 9.4 74.9 11.9M49 18.3Q50 19.3 48.9 21.1M59.3 45.4Q58.7 45.9 56.4 47M49 43.1Q49 44.4 48.7 46.3M64.8 44.5Q64.7 44.8 64.5 46.6M15.7 30Q14.9 31.4 15.3 32.6M32.7 28.6Q34.4 29.1 35.4 29.5M40.4 59.4Q38.1 60.3 38.1 62.1M50.2 10.9Q50 10.5 48 11.5M59.6 59.4Q59.8 61.9 61.6 62.8M25.9 31.1Q26.9 32.1 29 32.3M55.5 43.4Q58.6 43.8 59.6 43.5M28.7 39.9Q28 40.7 25.9 41M29.9 65.6Q29.3 67.1 30.9 68.8M1.6 50.7Q1.8 49.8 3.7 50.7M73.6 50.7Q73.8 49.8 75.7 50.7M35.2 24.1Q37.6 26 38 27.2M56.4 57.7Q57.1 59.2 59.1 60.3M27.3 10.1Q25.3 12.3 24.2 12.7M26.8 47.3Q23.9 47.2 23.1 47.4M28.3 20.4Q27.6 21.5 25.8 22M38.4 2.3Q36.6 4.4 36.3 5.7M36.4 22.9Q33.9 25.5 33.8 26.2M26.1 59.1Q26.6 59.6 29.1 61M71 46.3Q69.8 47.3 68.7 48.2M-1 46.3Q-2.2 47.3 -3.3 48.2M54.4 51.2Q55.8 52.2 56.9 52.9M65.5 59.8Q65.8 59.3 68 61.1M6.7 12Q6.1 12.7 4.1 14.3M12.9 68.9Q10 69.7 9.5 71.1M12.9 -3.1Q10 -2.3 9.5 -0.9M47.2 52.6Q45.4 51.8 44.1 53.4M59.5 70.2Q57.5 70.1 56.2 71.2M59.5 -1.8Q57.5 -1.9 56.2 -0.8M57 67.2Q56 67.4 54.6 67.5M32.5 56.8Q31.3 57.7 29 57.6M45.7 37.3Q46.1 39 48.4 40M28.5 38.9Q29 39.7 27.2 41.7M0.1 67.7Q0.7 69 1.6 69.9M0.1 -4.3Q0.7 -3 1.6 -2.1M72.1 67.7Q72.7 69 73.6 69.9M72.1 -4.3Q72.7 -3 73.6 -2.1M70.1 49.6Q70.9 50.9 71.9 52.3M-1.9 49.6Q-1.1 50.9 -0.1 52.3M29.6 10.7Q29.3 12.8 30.5 13.4M26.3 9Q26.6 11.2 25.5 12.8M51.5 23.6Q52.3 23.7 53.8 24.8M32.5 10.2Q33 11.5 34.9 11.2M38.3 12.4Q38.9 14.4 39.1 16.2M28.6 13.1Q28.9 13 27.8 15.1M54.6 26.2Q52.8 27.6 52.8 28.9M4.9 16.1Q5.7 18.5 5.8 18.6M24.3 59.2Q25.3 60.5 27 61.5M5.2 58.6Q5.9 60.3 7.6 60.5M43.6 43.4Q41.6 45.1 41.7 45.2M24.4 58.3Q21.8 59.3 21 58.7M44.4 16.8Q44.7 18.7 46.8 18.7M50.2 57.1Q50.1 59.5 51.7 60.9M17.2 -0.2Q19 -0 19.5 0.7M17.2 71.8Q19 72 19.5 72.7M33.6 42.9Q35.1 45.2 35.8 45.4M38 61.4Q36 61 34.4 61.8M5.6 59.2Q6.9 58.7 8.5 60.5M15.7 57.2Q16.4 58.3 15.2 61.3M48.5 1.6Q49.9 3.3 49.2 4.5M48.5 73.6Q49.9 75.3 49.2 76.5M13.8 35.5Q13.3 37.6 13.6 37.9M68.7 55.5Q70.6 56.7 72.6 56.3M-3.3 55.5Q-1.4 56.7 0.6 56.3M14 10.3Q11.6 10.6 11.5 11M70.7 58.2Q72 61 72 62.1M-1.3 58.2Q0 61 -0 62.1M48 28Q47.6 28.5 45.1 28.8M65.1 32.8Q65.1 33.5 65.9 36M41.2 59.8Q43.1 61.9 43.7 62.8M31.2 70.9Q29 72.1 28.6 72.9M31.2 -1.1Q29 0.1 28.6 0.9M0.3 63.7Q1.2 65.3 1.7 66.2M72.3 63.7Q73.2 65.3 73.7 66.2M42.7 33.2Q41.8 34.9 41.2 36.7M57.2 -0.4Q57.7 1.2 59.5 0.9M57.2 71.6Q57.7 73.2 59.5 72.9M9.8 6.5Q11.4 9 11.5 9.1M60.3 43.7Q61.6 44.6 62.4 44M19.4 68.2Q19.4 68.8 18.9 71.4M19.4 -3.8Q19.4 -3.2 18.9 -0.6M11.5 66.6Q11.7 67.9 13 68.2M17.9 14Q19.5 14.7 19.9 16.3M63.8 69.7Q62.4 71.3 62 70.8M63.8 -2.3Q62.4 -0.7 62 -1.2M61.6 8.2Q62.5 8.5 62.1 11M23.7 53.6Q22.9 54.4 21.7 54.3M64.1 30.5Q61.9 29.7 61.6 30.7M41.4 7.9Q41.2 9.9 43.1 9.7M24.9 68.5Q25.2 68.2 23.3 70.4M24.9 -3.5Q25.2 -3.8 23.3 -1.6M69.6 1.2Q69.5 3 71.8 3.5M69.6 73.2Q69.5 75 71.8 75.5M-2.4 1.2Q-2.5 3 -0.2 3.5M-2.4 73.2Q-2.5 75 -0.2 75.5M4.5 58.7Q5.4 58.3 7.7 59M34.7 25.1Q34.6 26 35.9 28.4M50.7 21.1Q49.2 20.2 47.8 21.7M2.2 5.9Q2.6 7.4 0.8 9.1M74.2 5.9Q74.6 7.4 72.8 9.1M49.5 24.4Q51.4 25.5 52.4 25.1M68.9 58.3Q68.5 59.9 68.2 61.5M-3.1 58.3Q-3.5 59.9 -3.8 61.5M50.3 40.8Q48.9 42.2 47.6 42.1M49 35.9Q48.9 37.2 48.3 39.6M20.8 43.3Q23.3 42.9 23.8 43.7M33.7 50Q32.3 50.1 30.3 50.8M30.7 44.5Q30.3 46.8 32.3 47.9M52.1 22Q53.6 22.8 54.8 22.1M61.6 14.7Q63.8 15.4 63.8 15.3M10.9 49.5Q8.6 50.8 7.6 49.9M51.6 12.1Q50.6 12.9 49.3 14.2M21.3 28.8Q22 29.2 21 31.8M14.9 65.9Q14.6 66.9 13.8 69.1M26.6 14.2Q29 16 30.3 16.1M-0.8 49.4Q0.5 49.6 1 52M71.2 49.4Q72.5 49.6 73 52M28.1 39.3Q26.3 40.1 25.3 40.5M42.2 19.8Q40.8 20.6 41.8 22.3M6.2 33.5Q6.8 36 6.2 37.4M70.8 17.9Q70.3 19.1 71.7 20.2M-1.2 17.9Q-1.7 19.1 -0.3 20.2M38.8 8.8Q35.8 8.1 34.8 9.8M5.4 52.2Q3.3 52.8 3.5 53.2M22.7 1.3Q23.2 0.9 25.2 1.4M22.7 73.3Q23.2 72.9 25.2 73.4M38.7 17.3Q40.6 17.5 40.6 18.9M39.3 31.3Q38.8 31.8 40.7 33.8M45.2 54.1Q47.1 53.9 47 55.6M55.5 62.4Q56.4 62.1 58.9 64.1M21 23.4Q21.3 25.2 20.2 26.2M9.4 13.8Q9.7 15.3 7.8 15.4M14.8 19.6Q15.2 19.5 16.9 21.6M17.4 12.7Q19 14.4 18.8 15.4M43.8 60.9Q43.7 63 44.8 63.6M63.5 64.5Q62.1 66.3 62.8 66.6M65.7 37.8Q64.4 38 61.8 38.8M32.4 23.9Q31.7 24.4 33.3 26.8M13.7 40.1Q11.3 40.7 10.5 41.5M43.5 9.3Q44.5 10.1 46.8 10.1M11.5 60.4Q12.5 62.6 13.2 62.8M66.6 59.9Q65.2 60.9 65.4 61.7M69.8 51.5Q72 52.3 72.1 53.1M-2.2 51.5Q0 52.3 0.1 53.1M64 60.7Q63.1 61.4 61.4 62.8M7.4 68.2Q8.9 69.4 10 68.4M7.4 -3.8Q8.9 -2.6 10 -3.6M16.3 17.2Q14.9 17.4 13.9 18.4M4.1 67Q2.6 66.9 3 68.6M76.1 67Q74.6 66.9 75 68.6M25.4 63.6Q26.1 64.1 27.7 64.6M66.4 38.4Q64.7 39.7 63.4 39.3M41.9 32.8Q41.7 33.2 41.8 35.6M13.7 54.4Q14 54.6 15.9 55.4M4.1 24.3Q4.4 25 3 27.6M76.1 24.3Q76.4 25 75 27.6M45.6 12.7Q47.2 14.5 47.1 15.6M70.1 0Q69.8 0.2 71.8 2.6M70.1 72Q69.8 72.2 71.8 74.6M-1.9 0Q-2.2 0.2 -0.2 2.6M-1.9 72Q-2.2 72.2 -0.2 74.6M25.4 39.8Q26 40.8 27.4 40.7M41.5 69.9Q41 71.7 40.2 73.6M41.5 -2.1Q41 -0.3 40.2 1.6M28.2 4.8Q30.8 4 31.6 5.5M11.9 22Q12.4 23.1 14 25.2M34.1 67.1Q34 68.3 36.1 69.8M34.1 -4.9Q34 -3.7 36.1 -2.2M66 14.1Q66.9 15.8 67.5 17.2M43.1 47.5Q43.6 48.7 44.5 49.8M40.3 61.5Q41.6 64.1 41.3 64.3M16.2 51.3Q16.4 52.6 18.8 53.9M42.8 49.9Q41.2 50.4 39.2 50.9M1.3 38Q0.1 40 0.6 41.6M73.3 38Q72.1 40 72.6 41.6M5 51.5Q4.2 52.7 2.5 53.1M77 51.5Q76.2 52.7 74.5 53.1M22.9 5.4Q21 6.2 20.8 7.3M60.4 66.7Q59.2 68.7 59.5 70.7M60.4 -5.3Q59.2 -3.3 59.5 -1.3M1.6 16.4Q1 16.9 -0.4 17.2M73.6 16.4Q73 16.9 71.6 17.2M69.9 71.1Q72.3 71.1 72.3 72M69.9 -0.9Q72.3 -0.9 72.3 0M-2.1 71.1Q0.3 71.1 0.3 72M-2.1 -0.9Q0.3 -0.9 0.3 0M13.5 64.4Q13.1 65.5 12.5 66.9M31.5 38.9Q34.1 40 34.4 40.6M55.8 19.9Q57.9 19.4 57.6 20.8M28.5 45.9Q27.2 47.9 26.2 48.4M30.1 59.8Q30.9 59.9 33.6 60.4M31.6 11.2Q30.8 12.4 32.2 15M69.6 30.5Q70.9 31.6 70.9 34.3M-2.4 30.5Q-1.1 31.6 -1.1 34.3M44.3 11.9Q43.8 11.9 41.8 14M68.1 15.9Q67.7 15.6 65.5 17.2M5.3 33.4Q3.9 32.9 2.4 34M77.3 33.4Q75.9 32.9 74.4 34M40.7 30.1Q38.9 29.9 37.3 31.4M10.9 68.8Q11.3 69.2 10.1 71.1M10.9 -3.2Q11.3 -2.8 10.1 -0.9M31.6 62.8Q31.6 62.3 33.7 63.5M26.3 22.4Q26.9 23 27.6 23.9M53.7 20.5Q53.9 21 53 23.1M35 30.5Q35.3 31.7 35.4 33.7M59.6 66.8Q59.9 68.1 59 70.2M59.6 -5.2Q59.9 -3.9 59 -1.8M42.6 31.9Q42.7 32.6 42.7 34.7M17.7 13.2Q18 15.4 17 15.6M56.1 23.4Q54.4 23.9 53.3 23.9M49.1 28.2Q47.1 28.8 46 30.6M29.2 49.3Q28.3 51.3 28 51.3M70.6 42.3Q68.4 42.5 67.6 44.7M-1.4 42.3Q-3.6 42.5 -4.4 44.7M44.8 26.7Q43.9 28.4 43.2 28.7M5.3 28.6Q7.3 30.5 8.1 30.1M53.9 8.8Q54.6 10.9 54.6 12M69.1 67.1Q71.2 67 71 68.6M-2.9 67.1Q-0.8 67 -1 68.6M70 7.5Q68.8 8.2 69.4 9.7M-2 7.5Q-3.2 8.2 -2.6 9.7M56.5 49.6Q56.8 49.8 57.8 51.5M16.8 33.8Q15.9 35.9 17 37.8M40.2 9.2Q41.6 9.9 41.2 11.3M4.8 32.2Q5.2 33.5 4.5 36.2M66 -0.5Q66.2 -0.4 64.8 1.2M66 71.5Q66.2 71.6 64.8 73.2M58.2 57.8Q57.2 57.6 56.6 59.3M51.9 69.9Q52.1 70.7 51.6 73.3M51.9 -2.1Q52.1 -1.3 51.6 1.3M27.8 24.1Q26.4 25.2 25.7 26.1M14.1 4Q15.2 4.6 15.6 5.4M42.5 40.6Q45.2 39.7 46.3 41.2M30.5 54.7Q31.4 57 31.5 58.4M65.5 55.1Q65.1 56.5 64.9 57.1M36.8 40.4Q37.1 42.4 38.5 43.8M30.3 10.6Q30.9 10.6 32.6 10.8M3.6 3.6Q1.8 4.8 0.3 6.1M75.6 3.6Q73.8 4.8 72.3 6.1M43.6 5.2Q44.5 7.3 43.2 8.7M40.7 29.1Q39.2 30.1 37.7 30M32.1 3Q31.2 3.9 31 6.7M6 64.7Q6.6 65.3 9.2 65.8M64.7 15.5Q65.8 17 66.6 18.3M28.6 1.7Q28.5 2.8 27.8 4.2M28.6 73.7Q28.5 74.8 27.8 76.2M18.2 69.9Q19.3 71.8 20.4 73.4M18.2 -2.1Q19.3 -0.2 20.4 1.4M20.3 11.3Q19.6 11.8 18.5 13.7M38 46.2Q36.5 47.9 35.5 48.6M43.5 33.1Q41.9 33.5 42.4 35.6M71.1 63.6Q70.8 65 68.9 64.9M-0.9 63.6Q-1.2 65 -3.1 64.9M37 21.1Q40.2 22.7 40.9 22.5M33.6 52.1Q31.2 53.7 30.6 53M39.1 54.4Q38.6 54.2 38.3 56.4M20.1 67.9Q18.2 69.7 18.2 70.6M20.1 -4.1Q18.2 -2.3 18.2 -1.4M44.7 44.2Q43.5 46.2 42.5 47.6M38.8 41.4Q37.1 41.5 37.5 43.4M2 38.4Q2.3 39.1 4.1 41.5M74 38.4Q74.3 39.1 76.1 41.5M61.5 4.9Q62.5 5.9 63.1 8M8.3 40.2Q9.1 42.6 11.1 43M0.6 42.8Q1.4 44.7 2.5 45.2M72.6 42.8Q73.4 44.7 74.5 45.2M11.6 55.1Q14.1 55.1 15 55.5M60.3 23.7Q62.3 26.2 62 27.3M15.7 66.1Q16.1 67.2 17.3 69.6M20.1 49.6Q17.6 50.2 17 49.8M63.4 56.3Q65.4 56.8 66 56.3M73.1 63.6Q71.4 63.6 70.3 65.7M1.1 63.6Q-0.6 63.6 -1.7 65.7M56.4 32.4Q56.2 33.3 54.3 33.4M63.5 49Q62.8 49.9 64.1 52M40.7 11.3Q41.6 13.7 42.1 14.3M30.7 38.1Q31.5 40.9 31.6 41.6M9.2 7.8Q10.5 8.4 11.2 10.5M18.3 41.5Q18.6 43.5 20.8 44.3M12.6 50.1Q12 50.3 9.4 52.7M48.7 64.6Q48.2 65 46.5 66.5M58.8 29.2Q58 28.4 56.8 29.4M55.1 68Q54.5 68.7 55.2 71.8M55.1 -4Q54.5 -3.3 55.2 -0.2M56.2 29.1Q58.8 28.6 59.5 30M42.9 24.9Q42.9 24.6 45 25.2M22.9 36.9Q23 37.9 21.5 40.5M44 61.9Q46.4 63.4 46.4 64.3M52.4 22.3Q50.1 21.9 48.6 22.4M2.1 33.9Q-0.5 34 -1.4 35.4M74.1 33.9Q71.5 34 70.6 35.4M10.7 18Q11.7 19.7 12.6 19.4M60.4 43.1Q60.8 43.6 62.6 46.4M16.3 55.8Q14.9 57.2 14.8 58M36.6 56.1Q35.8 56.5 37 58.3M37.9 50.5Q38.8 51.4 37.5 52.5M38 13Q39.2 14.8 39.8 14.7M18.4 24.4Q17.8 25.8 19.7 26M68.9 2.7Q69.9 2.4 71.8 3.4M68.9 74.7Q69.9 74.4 71.8 75.4M-3.1 2.7Q-2.1 2.4 -0.2 3.4M-3.1 74.7Q-2.1 74.4 -0.2 75.4M61 12.8Q62.9 14.3 64.3 15M49.2 1.8Q47.5 1.8 47.1 1.9M49.2 73.8Q47.5 73.8 47.1 73.9M59.2 68.3Q59.1 67.5 61.5 68.4M59.2 -3.7Q59.1 -4.5 61.5 -3.6M65.9 4.9Q64.6 5.6 65.6 7.3M20.1 38.5Q18.7 38.6 17.2 39.7M12.3 32.6Q12.3 33.4 13.6 36.4M2.6 21.9Q4.6 23.4 4.8 23.7M74.6 21.9Q76.6 23.4 76.8 23.7M43.7 59.5Q43.2 59 41.7 60.3M28.9 27.3Q28.8 28.5 30.3 28.8" fill="none" stroke="#c2c2c2" stroke-width="1.0" stroke-linecap="round"/></pattern>
<pattern id="pD" width="60" height="60" patternUnits="userSpaceOnUse"><rect width="60" height="60" fill="#eeeeee"/><path d="M38.4 43.8Q37.9 45.5 36.4 45.3M2.8 27.8Q2.7 27 0.7 28.1M62.8 27.8Q62.7 27 60.7 28.1M28.3 13.8Q27 14.1 28 15.8M17.3 54.5Q17.5 54.1 16.2 55.5M35.8 7.6Q36.3 6.9 38.3 7.6M58.2 51.3Q59 52.8 59.7 53.3M-1.8 51.3Q-1 52.8 -0.3 53.3M13 55.4Q13.2 56 11.6 57.5M13 -4.6Q13.2 -4 11.6 -2.5M21.1 9.7Q21.2 10.2 22.3 10.2M-0.2 40Q1 40.6 0.6 41.4M59.8 40Q61 40.6 60.6 41.4M19.3 28.4Q20.1 27.7 18.6 29.4M43.8 50.6Q44.7 50.9 46.1 50.8M-0.5 2.1Q-0.2 3.4 1.6 3.5M-0.5 62.1Q-0.2 63.4 1.6 63.5M59.5 2.1Q59.8 3.4 61.6 3.5M59.5 62.1Q59.8 63.4 61.6 63.5M55.4 55.8Q55.8 57.2 56.2 57.3M55.4 -4.2Q55.8 -2.8 56.2 -2.7M7.4 44.2Q5.4 46 5.5 45.6M5.9 19.3Q5.1 21.5 5 21.6M32.3 18.1Q31.7 17.9 33.1 19.4M40.8 59.5Q42.5 59.9 41.9 60.1M40.8 -0.5Q42.5 -0.1 41.9 0.1M24.7 13.1Q24.2 14.1 24 15.4M2.4 54.9Q4.2 54.1 4.3 55.1M62.4 54.9Q64.2 54.1 64.3 55.1M44.4 55.9Q43 56.8 43.4 58M44.4 -4.1Q43 -3.2 43.4 -2M8.4 50Q10.2 51.5 9.5 51.4M58.5 26.1Q58.5 26.7 58.6 28.3M-1.5 26.1Q-1.5 26.7 -1.4 28.3M23.7 7.6Q25.3 9.1 24.7 10M29.2 20.1Q30.6 21.2 30.7 20.5M22.5 46.5Q22.1 47.8 20.9 47.9M21.2 41.5Q22.5 42.7 22.4 43M18.1 55.8Q16.5 56.8 17.2 57.6M18.1 -4.2Q16.5 -3.2 17.2 -2.4M14.9 39.1Q15.4 41 15.2 41.5M21.7 37.8Q20.5 39.5 20.1 39.5M53.5 41.2Q52.2 41.4 50.9 41.4M10.9 50Q10.4 50.7 9.1 50.4M44.6 9.7Q44.2 10.1 43 11M37.9 45.5Q36.3 45.7 37 47.5M25.6 38.3Q26.8 37.9 27.3 39.7M27.6 13.5Q27.9 12.8 29 13.7M11.5 1.3Q11.9 2.4 11.7 3M11.5 61.3Q11.9 62.4 11.7 63M13.4 54.2Q13.7 54 15.2 54.2M6.7 49.3Q7.2 48.9 7.1 50.5M33 19.1Q33.5 20.2 32.4 21.6M48.5 37.9Q49 38.7 49.1 39.2M57.7 57.3Q58.4 56.9 57.1 58.9M57.7 -2.7Q58.4 -3.1 57.1 -1.1M-2.3 57.3Q-1.6 56.9 -2.9 58.9M-2.3 -2.7Q-1.6 -3.1 -2.9 -1.1M6.7 33.3Q6.8 34.9 6.2 34.6M21.9 25.4Q23.7 25.6 23.2 26.4M57.9 54.1Q58.8 54.8 57.4 55.6M-2.1 54.1Q-1.2 54.8 -2.6 55.6M25.9 19.1Q24.4 19.1 24 19.2M7.2 36.5Q8 38.1 7.5 38.1M-0 31Q1.5 31.3 1.6 32.9M60 31Q61.5 31.3 61.6 32.9M16.9 9.3Q16.3 9.2 15.3 9.3M39.2 35.7Q39.3 35.8 38.2 36.7M31.4 19.4Q31.9 19.8 32.6 20.9M43.9 35.4Q44.6 36.4 45.5 35.5M52.1 32.7Q53.1 32.9 54.4 32.8M42.4 36.7Q42.2 37.7 42.6 39.2M50.4 10.8Q50.1 12.6 51.8 12.7M41 25.1Q42.7 25.1 42.4 26.9M28.7 32.1Q27.9 33.2 28.7 33.8M47.8 3.3Q49.4 4.5 49.6 4.9M2.8 43.3Q2 42.3 0.2 43.4M62.8 43.3Q62 42.3 60.2 43.4M51.1 12Q51 12.3 50 14.3M16.6 54.6Q17.3 54.3 18.5 55.5M36.5 2.3Q36.3 1.6 38.2 2.9M36.5 62.3Q36.3 61.6 38.2 62.9M35.2 44.3Q34.4 44.1 33.9 44.8M36.9 29.2Q34.9 29.8 35.2 29.5M9.1 36.6Q9.2 38.2 9 39.1M15 32.3Q15.8 32.2 16.6 33.9M14.6 21.7Q14.6 22.6 13.6 22.8M4.5 39.9Q5.3 39.4 5.8 40.3M52 27.8Q51.5 29.4 53.2 29.8M4.3 8.9Q2.6 8.1 2.2 9.2M64.3 8.9Q62.6 8.1 62.2 9.2M59 39.5Q58.7 39.6 57.8 40.3M-1 39.5Q-1.3 39.6 -2.2 40.3M14.4 19.2Q13.8 19.1 13.8 20.8M50.6 38.4Q50.7 38.9 49.1 39.4M36.2 33.8Q34.6 33.3 35 35M13 2Q12.8 1.2 11.3 2.7M13 62Q12.8 61.2 11.3 62.7M28.5 52.5Q28.1 52.4 27.9 54.2M8.9 8.7Q10.2 8.7 9.6 10.3M14.5 16.3Q14.6 16.6 15.9 17M1.4 54.3Q2.4 55.9 2.4 56.6M61.4 54.3Q62.4 55.9 62.4 56.6M27.3 56.3Q27.8 57.1 29.3 57.1M27.3 -3.7Q27.8 -2.9 29.3 -2.9M43.3 9.4Q43.1 8.8 44.3 10.2M23.7 57.7Q24 57.9 24.4 59.2M23.7 -2.3Q24 -2.1 24.4 -0.8M43.3 42.7Q44.4 44.1 44.6 43.5M39.4 25.8Q37.7 26.5 38.1 25.9M24.8 1.4Q24.7 2.3 24.4 4M24.8 61.4Q24.7 62.3 24.4 64M6.5 4Q6.7 3.2 4.7 4.6M14.4 2.4Q14 2.8 14.8 3.6M14.4 62.4Q14 62.8 14.8 63.6M17.1 2.9Q17.6 3.1 19.6 3.2M17.1 62.9Q17.6 63.1 19.6 63.2M23.4 31.7Q23.2 32 24.9 32.1M56 35.6Q54.1 36 54.6 36.2M28.8 33.3Q29.7 35.3 29.6 35.2M19.1 26.5Q17.5 26.5 17.8 27.3M5.9 45.9Q4.4 45.3 4.6 46.8M14.5 4.1Q14.1 4 14.9 6M41.4 2.4Q41.7 1.9 42.7 3.4M41.4 62.4Q41.7 61.9 42.7 63.4M25.9 18.1Q26.2 19.2 24.5 19.5M45.4 33.3Q46 35.6 45.8 35.6M42.9 41.2Q43.4 41.2 44.5 42.9M3.2 9.4Q3.4 9.1 4.7 10.9M63.2 9.4Q63.4 9.1 64.7 10.9M45.2 33.4Q44.9 33.1 46.5 33.5M51.9 56.2Q51.4 56.6 51.3 57.7M51.9 -3.8Q51.4 -3.4 51.3 -2.3M20.1 -0.4Q20.4 -0.2 19.5 1.9M20.1 59.6Q20.4 59.8 19.5 61.9M32.4 9.5Q32.9 11 31.3 11M8 18.8Q6.9 18.9 6.2 19.3M46.2 54.9Q46.3 55.2 45.9 57.4M46.2 -5.1Q46.3 -4.8 45.9 -2.6M47.6 25Q47.7 25.4 50.1 25.4M28.7 52.2Q28.4 52.2 29.2 53.6M34.3 20.9Q33.4 20.8 33.2 22M59.9 49.9Q58.7 49.6 58 50.9M-0.1 49.9Q-1.3 49.6 -2 50.9M49.2 29.3Q48.9 29.9 50.6 29.5M54.7 11.5Q54.4 12.8 53.3 12.5M37.2 47.5Q37.4 48.2 37.6 48.6M10.7 22.8Q10.6 23.1 11.4 23.9M28.2 41Q29.3 43.2 29 43.4M41.7 39.1Q41.2 40.4 41.4 41.4M40.4 30.8Q39.8 31 41.2 31.8M35.3 44.9Q35.9 45 34.3 46.2M43.7 3.6Q44.1 5.3 42.2 5.1M42 49.5Q40.6 50.3 40.6 51M54.7 14.3Q53.5 13.2 52.8 14.4M24 9.6Q24.4 11 22.8 11.8M23.8 5.7Q23.7 6.2 22.6 7.4M52.8 12.1Q53.5 13.7 53.7 13.4M10.6 37.5Q9 38.1 9.5 38.5M50.4 52Q49.6 52.8 49.2 53.4M53.6 17.3Q55.4 17.4 54.9 18.9M2 5.9Q1.1 6.2 1.6 7.9M62 5.9Q61.1 6.2 61.6 7.9M36.3 37.9Q34.6 38.7 35 39.7M49.4 56.4Q50.4 58.5 50.7 58.4M49.4 -3.6Q50.4 -1.5 50.7 -1.6M14.6 41.4Q12.8 41.1 12.9 42.3M8.5 5.1Q8.5 6.2 10.3 6M45.1 48.3Q45.2 50.1 43.3 49.6M36.9 57.7Q36.5 57.2 38.1 58.1M36.9 -2.3Q36.5 -2.8 38.1 -1.9M23.1 26.6Q21.5 27.3 21.9 28.5M31.7 22.1Q32.3 23 33.6 22.9M30.4 57.7Q30.4 58.3 29.1 57.9M30.4 -2.3Q30.4 -1.7 29.1 -2.1M17.7 6.2Q18.3 8 17.8 7.9M22.9 16.3Q23.6 17.6 22.9 18.5M18.6 19.8Q16.7 20 16.9 20.7M13.5 39.8Q13.3 39.9 15 40.2M58.6 31.3Q58.1 32.1 59.5 33.7M-1.4 31.3Q-1.9 32.1 -0.5 33.7M49.3 -0.3Q47.5 -0.3 48 0.9M49.3 59.7Q47.5 59.7 48 60.9M27.5 22.3Q26.8 24.1 27.5 23.6M25.8 28.1Q27.6 28.8 27.3 28.5M30.1 2.1Q30.3 3.4 30.8 4.3M30.1 62.1Q30.3 63.4 30.8 64.3M54.4 38.1Q53 39.4 53.9 39.3M25.9 51.8Q24.5 53.7 23.7 53.1M44.4 53Q45.2 54.6 46.4 54M59.5 12.2Q59.6 12.5 59.8 13.8M-0.5 12.2Q-0.4 12.5 -0.2 13.8M39.2 6.9Q39 7.1 40.8 7.9M53.3 52.8Q54.6 54.2 54.3 53.5M35 7.3Q37 7.1 36.9 9M10.3 24.9Q10.8 26.4 11.8 26.6M10.2 31Q8.1 30.2 8 31.2M38.2 21.6Q38.8 23.6 39 23.4M13.8 33.4Q15 33.2 15.1 34.8M27.7 42.3Q28.7 42.4 30 42.4M35.7 47.4Q35.5 47.3 37.6 47.7M20.2 0.5Q21.1 2.3 21.3 2M20.2 60.5Q21.1 62.3 21.3 62M23 30.8Q23.3 33 21.4 32.8M18.7 9.9Q18 10.6 17.5 10.1M32.5 23.1Q31.8 24.1 30.9 23.5M8.3 20.1Q7.6 20.9 8.3 22.1M3.3 4.7Q4.7 4.7 3.9 5.9M63.3 4.7Q64.7 4.7 63.9 5.9M17.1 46.5Q17.3 47.3 16 47.6M22.8 37.2Q24.2 37.6 23.9 38.3M53.3 10.3Q54.4 10.8 54.4 10.9M1.4 2.1Q1.5 1.5 -0.2 3.1M1.4 62.1Q1.5 61.5 -0.2 63.1M61.4 2.1Q61.5 1.5 59.8 3.1M61.4 62.1Q61.5 61.5 59.8 63.1M36 6.3Q35.6 6.4 34.7 7.8M55.9 6.4Q56 5.6 58 6.9M-4.1 6.4Q-4 5.6 -2 6.9M28.7 38.6Q26.6 39.3 26.6 39.3M51.2 6.7Q50.1 6 50.1 7.8M46.4 30.7Q44.7 30.3 44.6 31.2M15.3 56.4Q15.4 55.8 16.3 57.2M15.3 -3.6Q15.4 -4.2 16.3 -2.8M25.8 36.7Q24.6 37.3 25.2 37.9M41.5 25.6Q40.4 26.3 40.9 28M30.6 31.9Q30 32 28.7 32.5M46.6 49.6Q46.5 49.8 47.5 50.7M53.8 14.9Q54.5 15 53 16.8M45.2 19.9Q47 20.4 47.2 20.5M2.6 57.4Q3.5 57.8 3.4 59.3M2.6 -2.6Q3.5 -2.2 3.4 -0.7M62.6 57.4Q63.5 57.8 63.4 59.3M62.6 -2.6Q63.5 -2.2 63.4 -0.7M23.9 19.6Q25 19.5 25.1 20M51.8 3.2Q53.2 4.5 52.6 4.4M51.8 63.2Q53.2 64.5 52.6 64.4M52.9 30.1Q53.1 29.2 54.6 30.7M33 17.1Q34.9 18.5 34.8 17.7M28.5 5.7Q28.1 5.2 27.5 6.6M59.1 31.8Q59.4 33.7 59.4 33.3M-0.9 31.8Q-0.6 33.7 -0.6 33.3M25.7 11.3Q25.4 12.9 25.6 13.8M55.9 19Q54.3 18.5 54.3 20.1M56.1 26.7Q56.5 28 56.6 29.2M-3.9 26.7Q-3.5 28 -3.4 29.2M16.4 44Q17.7 44.9 17.7 45.3M8.7 11.3Q7.1 13.4 7.4 13.1M7.1 9.8Q8.3 10.9 8.9 10.3M8.8 41.6Q9.2 41.6 10.7 42.3M2.1 42.8Q2.8 43.5 4.2 43.7M62.1 42.8Q62.8 43.5 64.2 43.7M39.5 28.8Q37.8 28.9 37.2 29.8M52.4 7.1Q53.8 7.1 52.8 8.8M39.7 45Q40.4 45 38.9 45.9M50.9 38.5Q51.6 39.3 51.5 40.8M44.5 29.5Q44.6 29.5 43.3 31.1M30.6 -0.6Q30.5 -1 28.8 0.8M30.6 59.4Q30.5 59 28.8 60.8M31.4 28.4Q33.3 29.6 32.8 29M14.7 49Q14.6 49.1 13.9 50.5M16.9 -0.3Q17 0.6 15.9 1.5M16.9 59.7Q17 60.6 15.9 61.5M26.7 17.7Q26.3 19 25.5 19M25.9 41Q27.5 40.3 27.4 41.3M3.9 0.4Q3.3 0.7 2.9 1.3M3.9 60.4Q3.3 60.7 2.9 61.3M63.9 0.4Q63.3 0.7 62.9 1.3M63.9 60.4Q63.3 60.7 62.9 61.3M48.2 28Q48.9 29.2 48.1 29.2M37.8 49.1Q38.3 50.4 37 51.1M2 53Q0.2 52.7 0.5 53.1M62 53Q60.2 52.7 60.5 53.1M5.3 22Q4.8 22 6.7 22.4M17.8 43.1Q19.1 44.7 18.2 44.4M41.1 12.1Q41.1 11.9 41.6 13.9M28 45.1Q27.8 46.7 26.7 47M53 54.5Q52.6 55.4 51.5 55.6M52.8 42.1Q52.5 42.2 53.1 43.5M40.1 45.6Q41.7 45.8 41.7 46.7M5.4 35.7Q5.2 35.2 6 37M8.4 25.3Q9.1 26.6 9.5 25.7M50.7 19.4Q49.2 18.4 49.4 19.7M4.2 35.5Q4.2 36 2.8 36.8M64.2 35.5Q64.2 36 62.8 36.8M55.2 35.8Q54.9 36.3 55 37.2M48.7 12.8Q48.3 13.9 50.1 14.7M13.4 39.3Q13.7 39.7 13 40.5M19.9 50.9Q19.7 50.5 18.6 51.9M31.7 3.8Q31.5 3.8 30.6 6.1M30.7 27.5Q30.3 28 30.9 28.9M3.7 39.9Q3.3 40 4.8 41M55.1 17.3Q56.9 16.5 56.7 17.8M21 11.8Q19.6 13.4 20 13.3M19.5 40Q18.6 40.5 19.9 42.4M17.9 15.4Q16.8 15.9 16.3 16.4M50.6 33.1Q51 34 50.9 35.2M25.3 6.7Q25.1 7.6 25.8 9.1M35.4 35Q36.8 34.3 37 35.9M7.1 45.1Q5.5 45.6 5.9 45.5M16.2 39.3Q16.3 39 18 39.5M42.7 30.1Q41.9 31.4 40.5 31.1M10.1 27.6Q9.7 29.4 11.2 29.3M23.5 46.8Q22 47.9 21 47.3M60.6 7Q59.7 7.3 59 8.6M0.6 7Q-0.3 7.3 -1 8.6M11.3 24.5Q9.8 25 9.5 24.9M26.1 36Q25.1 37.6 26.4 37.6M39.5 13.6Q39.5 15.6 39.5 15.6M46.2 17.5Q45.9 19.4 47.2 19.3M2.1 29.2Q1.6 29.3 3.4 30.7M62.1 29.2Q61.6 29.3 63.4 30.7M58.6 46.7Q58.2 46.4 60 47.9M-1.4 46.7Q-1.8 46.4 0 47.9M11.1 58.4Q10.5 58.1 11.9 59.7M11.1 -1.6Q10.5 -1.9 11.9 -0.3M60.9 44.1Q60.4 43.8 58.6 44.7M0.9 44.1Q0.4 43.8 -1.4 44.7M9.4 16.1Q10.7 16.2 10.9 16.3M1.7 17.7Q1.2 18.8 -0.4 18.8M61.7 17.7Q61.2 18.8 59.6 18.8M54.3 32.5Q54.2 32.3 55.1 34.4M15 27.2Q15 27.1 16.2 27.7M58.4 28.7Q57.6 28.8 56.4 29.8M-1.6 28.7Q-2.4 28.8 -3.6 29.8M24.1 17.9Q24.3 18.5 23.1 20.1M9.2 -0.2Q7.8 0.1 8.8 1.3M9.2 59.8Q7.8 60.1 8.8 61.3M14.2 11.4Q13.2 12.9 13.2 13.2M11.4 54.9Q12.9 55.8 13.3 55.6M29.7 51.3Q28.2 51.5 28.8 53.3M26.9 32.4Q27.6 32.7 29 33M30.7 49.5Q31.6 50.7 31.9 51.1M18.6 15.7Q19.1 15.9 18.8 17.8M26.2 33.2Q27.8 32.5 27.3 34M29.1 17.6Q29.1 17.4 30.7 17.8M54.1 3.8Q54.9 3.6 55.1 5.7M14.6 16.6Q13.1 16.8 12.9 17.2M29.7 8Q29.1 9.1 28.6 9.9M46.5 56.8Q46.2 57.8 46 58M46.5 -3.2Q46.2 -2.2 46 -2M19.4 40.1Q20.1 41.5 20.3 42M56.2 41.6Q54.9 42.7 54.9 43.3M37.8 3.1Q37.2 3.7 36.7 4.2M37.8 63.1Q37.2 63.7 36.7 64.2M43.2 44.7Q43.2 46.1 43.5 47.2M60.3 18.4Q58.5 20.1 58.7 20.4M0.3 18.4Q-1.5 20.1 -1.3 20.4M40.1 31.6Q38.3 32.4 38.2 33.1M38.1 41.8Q37.7 40.9 35.8 42.1M26.7 54.6Q25.2 55.5 24.5 55M32.4 39Q32.4 41.2 31.4 41.1M30.1 28.7Q28.5 30.7 29.1 30.5M18.4 29.9Q20.2 29.4 19.9 30.1M17.1 48Q18.1 49.7 18.7 49.4M28 19.1Q27.4 18.8 29.2 20.3M9.9 18Q8.6 18.3 8 19.7M17.6 37.1Q17.7 37.2 17.6 38.4M7.8 46.8Q9.3 47.2 9.5 47.4M53 18.9Q53.4 18.9 51.8 19.1M1.3 15.5Q0.8 16.3 -0.9 15.6M61.3 15.5Q60.8 16.3 59.1 15.6M0.3 17.2Q1.4 17.6 0.5 19.6M60.3 17.2Q61.4 17.6 60.5 19.6M58.9 32.7Q59.1 33.3 59.6 33.8M-1.1 32.7Q-0.9 33.3 -0.4 33.8M28.1 18.5Q26.7 19.3 26.3 18.8M13.9 25.1Q15.9 25.7 15.4 25.6M31.9 39.6Q31.1 39.6 30.9 41.2M1.6 6.7Q2.2 6.9 1.9 7.8M61.6 6.7Q62.2 6.9 61.9 7.8M14 18.1Q14.9 18.8 14 19.6M5.1 4.8Q3.6 5.6 3.2 5.5M3.8 53.1Q1.7 53.2 1.7 53.5M63.8 53.1Q61.7 53.2 61.7 53.5M49.6 35.1Q49.2 35.7 50.8 36.1M12 26.3Q10.9 27.4 9.7 27.1M8.9 56.5Q9 56.4 7.2 57.2M8.9 -3.5Q9 -3.6 7.2 -2.8M60 19.1Q59.9 19.9 57.7 19.7M-0 19.1Q-0.1 19.9 -2.3 19.7M5 15.7Q4.8 15.7 3.8 17.9M20.2 20.3Q20.9 20.4 21.5 21.1M17 24.6Q16.6 25.8 15 24.9M1.2 52.6Q2.4 53.4 2.6 53M61.2 52.6Q62.4 53.4 62.6 53M37.5 27.9Q36.2 27.9 36.3 29.3M8 2Q6.4 2 5.5 2.4M8 62Q6.4 62 5.5 62.4M16.7 46.2Q17.7 47.9 16.7 47.6M2 26.9Q2.5 27.1 3.6 28.2M62 26.9Q62.5 27.1 63.6 28.2M18.2 35.5Q18.6 36.4 18.1 37.4M57.8 25.6Q57.1 26.5 55.8 27.1M-2.2 25.6Q-2.9 26.5 -4.2 27.1M46.7 42.2Q46.6 41.6 48.1 43.2M40.8 19.3Q40.1 20.1 41.7 20.2M22.1 25.1Q22 25.5 20.8 27.2M59.6 10Q58.8 12 59.1 12M-0.4 10Q-1.2 12 -0.9 12M35.5 42.1Q36.1 42.9 37.7 43.1M43.7 18.7Q45.4 19.7 44.8 19.9M28.6 33Q27.3 32.8 27.9 34.4M36 35.9Q35.8 37.1 33.9 36M29.7 24.4Q30.4 25.5 29.9 26.2M7.4 56.2Q7.5 57.5 7.3 58.4M7.4 -3.8Q7.5 -2.5 7.3 -1.6M33.5 6.4Q34.2 6 35.6 7.3M49.6 44.3Q48 45.5 48.3 45.5M13.4 39.4Q11.7 40.3 12.5 40.7M48.2 35.3Q48 35.1 46.7 35.3M34.1 17.5Q35.1 19.1 35.6 18.8M36.7 29.1Q36 29.4 35.8 30.9M40.2 23.1Q40.6 23.7 41.7 23.3M40.1 29Q39 30 38.7 29.9M41.3 25.3Q40.8 26.4 40.2 25.8M53.5 11Q53.8 11.2 51.9 12.1M40.7 38.5Q39.6 37.6 39 38.5M41.6 3.9Q40.3 5.3 40.4 4.5M29.5 44.6Q29.6 46.4 30.3 46M12.5 53.9Q11 54.8 10.5 54.7M53.5 34.9Q55.4 35.8 55.1 36.2M9.2 11.6Q7.8 11.8 8.7 12.7M14.5 29.4Q15.9 29.2 16.4 29.8M35.7 31Q35.2 31.8 34.1 32.2M48.2 5.4Q50.2 4.6 50.5 6.2M54.6 36.1Q53.4 35.6 52.7 37M45.8 41.8Q45.6 43.6 46 43.4M29.1 12.5Q27 11.9 26.5 12.7M43.7 22.1Q43.2 23.4 43.9 24.3M12.4 12.4Q13.2 12.4 12.1 14.2M54.7 15.1Q54.5 16.9 55.3 16.3M22.8 50.1Q21 50 20.6 50.2M9.7 14.4Q10.5 15 10.4 15.6M16.8 15Q17.3 14.3 18.1 15.6M31.9 14.8Q32.2 16.4 30.8 15.8M56.7 13.4Q56.7 13.6 54.9 13.9M33.1 14.9Q33.4 16 31.8 16.1M25.1 1.2Q25.4 2.1 26.3 2.5M25.1 61.2Q25.4 62.1 26.3 62.5M1.5 27.6Q0.8 28.5 -0.9 28.5M61.5 27.6Q60.8 28.5 59.1 28.5M36.9 59.4Q36.2 61 35.4 60.5M36.9 -0.6Q36.2 1 35.4 0.5M32.5 35Q33.1 37 33.7 36.8M60.6 59.7Q59 59.4 59.4 59.9M60.6 -0.3Q59 -0.6 59.4 -0.1M0.6 59.7Q-1 59.4 -0.6 59.9M0.6 -0.3Q-1 -0.6 -0.6 -0.1M49.1 33Q49 32.6 50.1 34M8 44.3Q8.9 43.8 9.2 45.1M51 38.6Q50.6 38.5 49 39.4M25 21.6Q25.2 23.5 25.8 24M37.1 4.3Q38.5 4.3 38.6 5.6M14.9 21.7Q16 22.9 15.1 23.5M16.7 19.9Q16.4 19.6 16.7 21.4M40.4 51.7Q39.1 52.2 38.4 52.4M33.5 9.6Q32.6 10.5 33.2 11.5M49.8 37.8Q50.5 38.6 50.6 39.1M17.6 27.3Q18.8 28 18.2 29.3M32.7 33.1Q31.7 34.7 31.9 34.4M8.1 40.2Q8.6 40.2 9.4 41.5M9.9 57.4Q11.1 57.1 11.3 57.5M9.9 -2.6Q11.1 -2.9 11.3 -2.5M12.5 46.5Q12.2 46.3 11 46.6M60.9 35.5Q59 35.7 58.9 36.1M0.9 35.5Q-1 35.7 -1.1 36.1M41.1 8.8Q43.3 9.5 43.6 9.5M5 42Q4.3 41.9 2.7 42.1M65 42Q64.3 41.9 62.7 42.1M37.9 54.9Q37.1 56.7 37.9 56.2M42 55.8Q43 55.9 43.2 56.4M42 -4.2Q43 -4.1 43.2 -3.6M28.6 13.2Q28.3 13.8 26.9 14.7M29.4 22.9Q29.4 24.8 29.5 24.6M48.7 7.1Q47.7 9 47.5 9.1M56.8 3.4Q56.3 4.4 56.1 5M-3.2 3.4Q-3.7 4.4 -3.9 5M52.3 37.6Q52.3 37.6 50.8 38.1M11.1 47.5Q11.9 48.2 10.8 48.9M39.9 58.3Q40.5 58.6 40.9 60M39.9 -1.7Q40.5 -1.4 40.9 -0M32.5 57.3Q32.5 58.2 31.6 58.6M32.5 -2.7Q32.5 -1.8 31.6 -1.4M21.7 39.2Q21.9 41.1 22.6 41.3M17.5 9.7Q18.7 11.5 18.2 10.9M26.1 14Q24.4 13.9 23.9 14.8M29.2 7.4Q28.9 7.1 30.5 8.5M37.5 17.7Q36.7 17.5 35.1 18.4M46.4 20Q46 20.9 44.8 20.7M41.8 44.5Q41.8 46.3 42.5 45.8M1.7 16.2Q3.1 16.1 2.7 17.7M61.7 16.2Q63.1 16.1 62.7 17.7M5.7 0.1Q6.1 1.4 6.8 2M5.7 60.1Q6.1 61.4 6.8 62M30.6 21Q31.9 22.2 30.9 22.2M6.6 11.6Q6.5 12.8 5.1 12.8M8.2 48.9Q9.3 50.1 9.3 49.8M18.7 22.5Q18 24.3 17.6 23.7M9 56.2Q7.2 55.9 6.6 57.1M9 -3.8Q7.2 -4.1 6.6 -2.9M27.2 10Q27.1 10.2 25.3 10.5M29.2 57.1Q30.8 57.6 30.6 57.6M29.2 -2.9Q30.8 -2.4 30.6 -2.4M47.7 59Q47.5 59.8 46.1 60.4M47.7 -1Q47.5 -0.2 46.1 0.4M14.1 19.3Q12 19.9 12.2 19.7M59.6 36.6Q59.9 37.8 59.6 38.5M-0.4 36.6Q-0.1 37.8 -0.4 38.5M30.4 53.8Q29.8 54.7 28.2 54.6M11.3 28.9Q12.9 28.8 12.3 30M48.7 49.4Q48.1 50.4 49.1 50.6M42.8 20.6Q42.9 22 42.3 22M47.1 33.2Q46.4 33.5 46.8 34.4M5.4 4.3Q4.5 4.9 3.3 4.6M51.9 37.2Q53.3 39.2 52.3 38.9M9.5 48.3Q9.6 48.6 8.7 49.9M44.9 32.9Q45.7 34.6 44.6 34.2M46.1 17.1Q45.8 17.2 45.2 18.1M27.4 17.2Q27.6 16.6 29.2 17.6M18.6 7.4Q18.8 8.4 21.2 7.6M25 6.3Q24.1 7.3 25.4 8.2M1.2 17Q-0.3 17.7 -0.3 18.9M61.2 17Q59.7 17.7 59.7 18.9M56.1 18.6Q57.7 18.5 57.6 19.2M-3.9 18.6Q-2.3 18.5 -2.4 19.2M40.2 55.6Q39.9 55.8 39.7 57M40.2 -4.4Q39.9 -4.2 39.7 -3M29.8 36.8Q28.8 37.7 27.7 37M30.8 10.9Q29.7 11.3 30 12.3M28.6 0.8Q29.1 1.6 29.6 3.1M28.6 60.8Q29.1 61.6 29.6 63.1M27.4 41Q27.6 41.4 27.4 42.8M41.5 24.8Q41.3 24.7 40.5 26.1M28.4 29.5Q29 30.2 29.8 29.6M49.7 49.9Q48 49.8 47.6 51.4M7.6 47.1Q7.5 48.5 9 48M12.9 13.1Q11.5 14.3 12.2 15.2M31.9 32.1Q32.6 34.1 31.7 34.4M19.8 1.9Q20.2 2.5 19.9 3.1M19.8 61.9Q20.2 62.5 19.9 63.1M45.5 49.2Q44.4 50.5 44.1 50.8M39.2 12.8Q38.4 12.4 37.5 13.5M50.7 27.6Q49.9 28.6 49 29.3M28.8 13.5Q26.7 13.1 26.8 15M28 4Q27.6 5.5 28.4 5.6M34.2 54.8Q35.2 56 35.6 55.8M25.3 10.2Q26.8 11.5 26 12.1M50.5 49.1Q51.5 50.6 50.9 51M24.5 10.7Q23.4 10.7 23.4 11.9M42.2 38.6Q41.2 39.7 40.2 39M9.1 35.3Q7.5 34.4 7.5 35.4M1.3 42.8Q2.4 42.8 2 45.1M61.3 42.8Q62.4 42.8 62 45.1M18 15.4Q17.8 15.4 18.8 16.3M27.8 31.8Q26.3 32.8 26.5 31.9M16.6 31.3Q18.3 32.5 18 33.3M6.2 21.5Q5.1 22 5 23.1M4.4 23.8Q3.6 23.4 3 24.7M64.4 23.8Q63.6 23.4 63 24.7M42.4 23.9Q42.3 24 43.2 26.1M37.7 44.2Q39.5 44.3 39.4 44.4M23.8 7Q25.4 8.2 25.1 8.6M57.3 24.3Q57.8 23.4 58.9 24.6M-2.7 24.3Q-2.2 23.4 -1.1 24.6M5.5 54.4Q3.9 55.8 4.2 54.9M9.4 17.6Q8.9 18 10.6 18.6M46.5 3.6Q47.2 5.2 46.6 5M51.5 31.5Q51.5 32.7 53.5 32.5M17.3 52.7Q18 52.9 18.7 54.4M28.6 25.4Q29.5 26.3 30.3 26.3M19.6 36.3Q19.8 37.6 21.2 37.4M10.7 17.3Q11.6 16.8 12.2 17.6M6.8 53Q7 54.4 7.7 54.2M44.9 53.3Q44.8 53.1 44.7 55M42.1 50Q41.3 51.1 39.8 50.6M16.4 33.1Q17.5 33 18.6 34.3M58.1 36.5Q59.4 37.5 60 38M-1.9 36.5Q-0.6 37.5 -0 38M52 18.2Q52 19.4 53.3 19.7M28 11.7Q28.8 13 29.3 12.3M48.1 49.8Q47.4 50.6 47.6 52M54.6 14.6Q53.1 15.7 53.8 16.4M47.5 52.1Q46.7 54.3 48.1 54.5M40.7 47.6Q41.6 48 41 49.6M11.7 44.9Q11.1 45.2 10.3 45.5M17.9 49.7Q18.4 49.7 19.4 51.5M57.1 8.7Q57.4 7.7 58.3 9M-2.9 8.7Q-2.6 7.7 -1.7 9M8.5 55.7Q8.6 55.3 10.1 57.3M8.5 -4.3Q8.6 -4.7 10.1 -2.7M1.3 7.2Q-0.2 6.2 -0.5 7.5M61.3 7.2Q59.8 6.2 59.5 7.5M37.7 18.5Q39 18.6 39.3 19.5M33.8 10.7Q34.7 12.3 33.6 11.9M34.2 27.4Q34.7 28.9 34.9 29.5M27.1 23.4Q26.2 23.4 26.1 24.6M11.7 50.9Q11.3 52.8 13 52.7M27.2 44.3Q28.9 44.1 29.1 45M6.4 22.2Q4.5 22.6 4.7 23.7M53.8 17Q55.7 17.2 56.1 17.6M42.4 44.7Q42.4 46.1 41.2 45.4M46.9 30.1Q48.5 32.1 47.7 32.5M31.3 53.2Q29.5 53.9 29.5 54M8.3 19.2Q8.4 20.9 7.9 21M57.7 18.5Q56.5 19.2 56.1 18.7M-2.3 18.5Q-3.5 19.2 -3.9 18.7M59.5 29.7Q58.1 30.7 57.6 31.1M-0.5 29.7Q-1.9 30.7 -2.4 31.1M55.2 0.8Q56.5 1 57.4 1.7M55.2 60.8Q56.5 61 57.4 61.7M-4.8 0.8Q-3.5 1 -2.6 1.7M-4.8 60.8Q-3.5 61 -2.6 61.7M46.8 26.3Q48.2 27 48.4 27M30.4 0.7Q29.2 1.4 29.1 0.7M30.4 60.7Q29.2 61.4 29.1 60.7M55.9 40.2Q56.7 41.5 56.7 42.3M-4.1 40.2Q-3.3 41.5 -3.3 42.3M47.2 32.4Q47.8 32.2 47 33.9M4.5 37.6Q5 37.7 6.9 37.9M15.9 28.2Q15.7 30.1 15.3 29.6M8.4 12.7Q7.8 14.2 9.5 13.5M58.7 1.8Q57.1 3.3 56.9 2.9M58.7 61.8Q57.1 63.3 56.9 62.9M-1.3 1.8Q-2.9 3.3 -3.1 2.9M-1.3 61.8Q-2.9 63.3 -3.1 62.9M7.5 37.5Q6.3 37.6 6.4 39.3M38.2 16.6Q36.7 18.2 37.5 18.7M58.9 23.4Q59.6 23.5 58.5 25M-1.1 23.4Q-0.4 23.5 -1.5 25M5.8 29.2Q5.3 31.2 6.2 31.2M32.5 22.9Q33.1 24.1 31.6 23.8M14.3 27.1Q16.5 27.4 16.6 27.3M59.8 27.9Q59.7 28.2 57.6 28.8M-0.2 27.9Q-0.3 28.2 -2.4 28.8M31.2 2Q30.7 2.3 29.9 2.2M31.2 62Q30.7 62.3 29.9 62.2M10.1 20.5Q10.2 20.7 10.8 21.5M44.3 41.8Q42.5 42.2 41.9 42.2M40.8 47Q41.8 46.9 42.3 47.7M55.3 24.3Q55.9 26 54.5 25.4M59 19.8Q57 19.5 56.8 21.1M-1 19.8Q-3 19.5 -3.2 21.1M38.7 59.2Q40.2 59.2 41 59.4M38.7 -0.8Q40.2 -0.8 41 -0.6M8.6 29.7Q9.5 31 8.6 31.2M10.3 36.1Q11.1 38.2 9.6 38.5M2.3 24.7Q2.3 26.1 4.3 25.8M62.3 24.7Q62.3 26.1 64.3 25.8M38.1 38.3Q37.5 38.8 35.8 38.7M32.1 31Q33.3 30.9 33.5 31.1M26.7 49.7Q27.8 51.5 27.4 51.8M14 35.4Q13.1 35.7 14.2 37.5M15.4 46.5Q15 46.9 14.1 47.6M31.6 14.9Q33.2 15.1 32.8 17.1M6.9 50.9Q7.4 52.1 7.3 52.9" fill="none" stroke="#bdbdbd" stroke-width="0.9" stroke-linecap="round"/></pattern>
<pattern id="pB" width="53.2" height="52.7" patternUnits="userSpaceOnUse"><path d="M1.8 2.5h0M4 0.9h0M9.2 2.1h0M12.7 1.3h0M16.3 1.8h0M20.1 1h0M23.6 1.5h0M28 2.5h0M32.2 1.7h0M35.1 1.2h0M38.1 0.8h0M42.7 1.3h0M46.3 2.4h0M50.4 1.8h0M2.4 4.1h0M6.3 4.3h0M10.5 5.8h0M14.6 4.4h0M18.8 5.5h0M22.3 5.7h0M26.1 5.5h0M29.2 5.8h0M34.1 4.3h0M37.5 5.3h0M40.8 5h0M44.6 5.7h0M48.5 5.5h0M52 5.6h0M1.7 8.2h0M4.9 9h0M9 8.2h0M11.8 7.9h0M16.5 7.6h0M20.7 7.8h0M24.5 7.9h0M28.4 8.6h0M31.4 8.3h0M35.4 8.4h0M38.6 7.7h0M42.8 9h0M46.8 7.5h0M50.9 8.6h0M3.6 11h0M7.1 10.7h0M10.7 11.1h0M13.8 12.2h0M17.3 11.6h0M22.5 11.1h0M25.1 12.2h0M29.3 11.9h0M32.4 11.3h0M36.5 11.8h0M40.1 12.3h0M43.8 11.9h0M47.6 11.1h0M52.8 10.9h0M0.4 15.2h0M4.5 14h0M9.4 14.2h0M11.5 14.5h0M16.4 15.2h0M19.3 14.5h0M22.9 14.7h0M28 15.2h0M32.1 15.3h0M35.8 15.2h0M38.9 14.3h0M43 14.5h0M45.8 14.7h0M51 14.1h0M3 17.9h0M6.7 17.5h0M11.3 17.7h0M14.4 18h0M17.2 18.2h0M21.2 17.3h0M24.8 17.5h0M28.7 18.3h0M33.3 19h0M37.8 19h0M40.4 18h0M44.2 18.3h0M48.7 18.6h0M52.6 17.7h0M0.8 21.4h0M3.9 20.6h0M8.4 20.7h0M12.8 20.9h0M15.4 20.8h0M19.5 20.9h0M23.8 21.3h0M27.2 21.6h0M30.8 22.1h0M36 21.8h0M38.8 21.4h0M42.9 20.6h0M46.4 21.4h0M49.8 20.7h0M3.4 24.4h0M6.7 25.4h0M10.6 24.3h0M15.1 24.5h0M17.2 25h0M21.1 24.3h0M26.3 25h0M28.6 24.6h0M33.1 24.7h0M36.5 24.8h0M40.1 24.3h0M44.4 25.5h0M47.7 25.1h0M51.7 24.8h0M0.8 27.9h0M5.2 27.8h0M7.9 27.3h0M11.6 28.6h0M16.4 28.8h0M20.3 27.1h0M24 28.5h0M28 28h0M31.1 27.9h0M35.7 27.6h0M39 27.9h0M43.6 28.5h0M47.3 28.6h0M50 27.5h0M2.8 30.8h0M6.5 31.6h0M11.2 31.4h0M14.8 30.5h0M17.8 32.2h0M21.2 31.1h0M24.9 30.5h0M30.2 32.1h0M33.5 30.6h0M36.7 30.8h0M41.2 31.6h0M44.5 31.3h0M47.8 31.3h0M53.1 31.7h0M0.2 34.6h0M5.1 34.1h0M9.3 34.5h0M12.7 34.4h0M17 35.1h0M20.1 33.9h0M23.6 33.7h0M27.7 35.2h0M30.8 34.6h0M35.1 34.4h0M39.3 35.3h0M43.1 34.5h0M47.4 34.2h0M50.8 34.8h0M3.3 38.5h0M6.2 38.1h0M10.3 38.1h0M15.1 38.1h0M17.2 37.8h0M22.2 38.5h0M25.9 38.4h0M28.6 38.6h0M33.7 38h0M37.8 38.5h0M40.1 38.4h0M45.1 37.3h0M48.9 38h0M51.7 38.4h0M0.3 41.3h0M4.6 40.7h0M8.7 41.1h0M11.8 42h0M15.4 40.2h0M19.9 41.7h0M24 41.6h0M27.5 41.4h0M31.1 40.7h0M35.2 40.3h0M38.2 41.6h0M42.2 41.6h0M47.1 41h0M50.7 41.7h0M3.5 43.8h0M6 44.2h0M10.4 44.1h0M13.4 44.5h0M18.9 44.2h0M21.9 44.2h0M25.5 45.1h0M29.1 44.7h0M33.2 44.5h0M37.8 43.7h0M41.4 44.1h0M44.9 45h0M48.7 44.2h0M52.9 43.7h0M1.2 47.5h0M4.8 48.3h0M9.1 47.9h0M12 47.2h0M16.1 47.2h0M19.5 48.5h0M23.1 48.3h0M27.3 47.5h0M31 47h0M35.1 47.1h0M38.8 47.3h0M43.5 48.5h0M46.4 48h0M51.1 47.4h0M2.1 50.5h0M6.1 51.3h0M10.2 50.7h0M14.8 50.5h0M18.6 51.2h0M21.7 51.6h0M25.4 51.7h0M30.2 51h0M33.6 51.8h0M37.5 51.5h0M41.5 51.8h0M45.1 51.9h0M48.1 51.2h0M52.6 50.8h0" stroke="#808080" stroke-opacity="0.25" stroke-width="3.1" stroke-linecap="round" fill="none"/><path d="M1.8 2.5h0M4 0.9h0M9.2 2.1h0M12.7 1.3h0M16.3 1.8h0M20.1 1h0M23.6 1.5h0M28 2.5h0M32.2 1.7h0M35.1 1.2h0M38.1 0.8h0M42.7 1.3h0M46.3 2.4h0M50.4 1.8h0M2.4 4.1h0M6.3 4.3h0M10.5 5.8h0M14.6 4.4h0M18.8 5.5h0M22.3 5.7h0M26.1 5.5h0M29.2 5.8h0M34.1 4.3h0M37.5 5.3h0M40.8 5h0M44.6 5.7h0M48.5 5.5h0M52 5.6h0M1.7 8.2h0M4.9 9h0M9 8.2h0M11.8 7.9h0M16.5 7.6h0M20.7 7.8h0M24.5 7.9h0M28.4 8.6h0M31.4 8.3h0M35.4 8.4h0M38.6 7.7h0M42.8 9h0M46.8 7.5h0M50.9 8.6h0M3.6 11h0M7.1 10.7h0M10.7 11.1h0M13.8 12.2h0M17.3 11.6h0M22.5 11.1h0M25.1 12.2h0M29.3 11.9h0M32.4 11.3h0M36.5 11.8h0M40.1 12.3h0M43.8 11.9h0M47.6 11.1h0M52.8 10.9h0M0.4 15.2h0M4.5 14h0M9.4 14.2h0M11.5 14.5h0M16.4 15.2h0M19.3 14.5h0M22.9 14.7h0M28 15.2h0M32.1 15.3h0M35.8 15.2h0M38.9 14.3h0M43 14.5h0M45.8 14.7h0M51 14.1h0M3 17.9h0M6.7 17.5h0M11.3 17.7h0M14.4 18h0M17.2 18.2h0M21.2 17.3h0M24.8 17.5h0M28.7 18.3h0M33.3 19h0M37.8 19h0M40.4 18h0M44.2 18.3h0M48.7 18.6h0M52.6 17.7h0M0.8 21.4h0M3.9 20.6h0M8.4 20.7h0M12.8 20.9h0M15.4 20.8h0M19.5 20.9h0M23.8 21.3h0M27.2 21.6h0M30.8 22.1h0M36 21.8h0M38.8 21.4h0M42.9 20.6h0M46.4 21.4h0M49.8 20.7h0M3.4 24.4h0M6.7 25.4h0M10.6 24.3h0M15.1 24.5h0M17.2 25h0M21.1 24.3h0M26.3 25h0M28.6 24.6h0M33.1 24.7h0M36.5 24.8h0M40.1 24.3h0M44.4 25.5h0M47.7 25.1h0M51.7 24.8h0M0.8 27.9h0M5.2 27.8h0M7.9 27.3h0M11.6 28.6h0M16.4 28.8h0M20.3 27.1h0M24 28.5h0M28 28h0M31.1 27.9h0M35.7 27.6h0M39 27.9h0M43.6 28.5h0M47.3 28.6h0M50 27.5h0M2.8 30.8h0M6.5 31.6h0M11.2 31.4h0M14.8 30.5h0M17.8 32.2h0M21.2 31.1h0M24.9 30.5h0M30.2 32.1h0M33.5 30.6h0M36.7 30.8h0M41.2 31.6h0M44.5 31.3h0M47.8 31.3h0M53.1 31.7h0M0.2 34.6h0M5.1 34.1h0M9.3 34.5h0M12.7 34.4h0M17 35.1h0M20.1 33.9h0M23.6 33.7h0M27.7 35.2h0M30.8 34.6h0M35.1 34.4h0M39.3 35.3h0M43.1 34.5h0M47.4 34.2h0M50.8 34.8h0M3.3 38.5h0M6.2 38.1h0M10.3 38.1h0M15.1 38.1h0M17.2 37.8h0M22.2 38.5h0M25.9 38.4h0M28.6 38.6h0M33.7 38h0M37.8 38.5h0M40.1 38.4h0M45.1 37.3h0M48.9 38h0M51.7 38.4h0M0.3 41.3h0M4.6 40.7h0M8.7 41.1h0M11.8 42h0M15.4 40.2h0M19.9 41.7h0M24 41.6h0M27.5 41.4h0M31.1 40.7h0M35.2 40.3h0M38.2 41.6h0M42.2 41.6h0M47.1 41h0M50.7 41.7h0M3.5 43.8h0M6 44.2h0M10.4 44.1h0M13.4 44.5h0M18.9 44.2h0M21.9 44.2h0M25.5 45.1h0M29.1 44.7h0M33.2 44.5h0M37.8 43.7h0M41.4 44.1h0M44.9 45h0M48.7 44.2h0M52.9 43.7h0M1.2 47.5h0M4.8 48.3h0M9.1 47.9h0M12 47.2h0M16.1 47.2h0M19.5 48.5h0M23.1 48.3h0M27.3 47.5h0M31 47h0M35.1 47.1h0M38.8 47.3h0M43.5 48.5h0M46.4 48h0M51.1 47.4h0M2.1 50.5h0M6.1 51.3h0M10.2 50.7h0M14.8 50.5h0M18.6 51.2h0M21.7 51.6h0M25.4 51.7h0M30.2 51h0M33.6 51.8h0M37.5 51.5h0M41.5 51.8h0M45.1 51.9h0M48.1 51.2h0M52.6 50.8h0" stroke="#808080" stroke-width="1.8" stroke-linecap="round" fill="none"/></pattern>
<pattern id="pC" width="15" height="14" patternUnits="userSpaceOnUse"><rect width="15" height="14" fill="#e7e7e7"/><path d="M0 7Q7.5 -3.5 15 7M-7.5 14Q0 3.5 7.5 14M7.5 14Q15 3.5 22.5 14M-7.5 0Q0 -10.5 7.5 0M7.5 0Q15 -10.5 22.5 0" fill="none" stroke="#a0a0a0" stroke-width="0.8"/><path d="M0 0l2 14M3 0l2 14M6 0l2 14M9 0l2 14M12 0l2 14" fill="none" stroke="#d4d4d4" stroke-width="0.6"/></pattern>
<clipPath id="cBig"><circle cx="730" cy="250" r="331"/></clipPath>
<filter id="soft" x="0" y="0" width="100%" height="100%" filterUnits="userSpaceOnUse"><feGaussianBlur stdDeviation="0.8"/></filter>
</defs>
<rect width="1279" height="961" fill="#fff"/>
<g>
<circle cx="730" cy="250" r="331" fill="url(#pA)" stroke="#c4c4c4" stroke-width="2.2" stroke-dasharray="8 3"/>
<circle cx="331.6" cy="760" r="66.4" fill="url(#pC)"/>
<circle cx="469" cy="885.5" r="66.5" fill="url(#pC)"/>
<circle cx="827" cy="774.5" r="66.6" fill="url(#pC)"/>
<ellipse cx="597.5" cy="682" rx="219.5" ry="224" fill="url(#pB)"/>
<circle cx="754" cy="338.5" r="164" fill="url(#pD)" stroke="#868686" stroke-width="1.7"/>
</g>
<circle cx="331.6" cy="760" r="66.4" fill="none" stroke="#111" stroke-width="2" stroke-dasharray="4.6 3.4"/>
<circle cx="469" cy="885.5" r="66.5" fill="none" stroke="#111" stroke-width="2" stroke-dasharray="4.6 3.4"/>
<circle cx="827" cy="774.5" r="66.6" fill="none" stroke="#111" stroke-width="2" stroke-dasharray="4.6 3.4"/>
<rect width="1279" height="3" fill="#000"/>
<circle cx="758" cy="322" r="295" fill="none" stroke="#111" stroke-width="2.2"/>
<path d="M464.9 356.7L473.3 375.7L462.5 377.3ZM1005.4 161.1L991 150.3L1000.4 143.8ZM841.1 605.2L855.4 594.2L859.1 605.6Z" fill="#111"/>
<circle cx="580.5" cy="680" r="271" fill="none" stroke="#111" stroke-width="1.8" stroke-dasharray="4.2 3.6"/>
<circle cx="754" cy="337.5" r="150.5" fill="none" stroke="#111" stroke-width="1.8" stroke-dasharray="3.5 3.4"/>
<circle cx="393" cy="501.5" r="81" fill="none" stroke="#111" stroke-width="2.2"/>
<path d="M393.8 420.3L384 424.4L383.6 417.4ZM434.6 431.9L426.1 430.8L428.9 425.5ZM318.3 470L318.3 478.6L312.7 476.5ZM390.8 582.6L400.7 578.8L400.9 585.8ZM358.9 575.1L367.5 575.3L365.2 580.9ZM320.9 538.5L327.5 544L322.3 547ZM457.1 551.2L459.2 543L464.1 546.4Z" fill="#111"/>
<circle cx="358.8" cy="508" r="33" fill="none" stroke="#111" stroke-width="1.6"/>
<path d="M372.3 538.3L377.1 532.7L379.6 537ZM358.2 541.2L364.9 538.1L365.4 543.1ZM344.7 538L351.2 537.7L349.5 542.4ZM327.8 496.1L328.4 503.5L323.6 502.2Z" fill="#111"/>
<circle cx="610.7" cy="470.5" r="94.5" fill="none" stroke="#111" stroke-width="2"/>
<path d="M571.1 556.4L580.8 556.6L578.2 563ZM609.5 565.1L618.4 561.3L618.6 568.3ZM516.5 461.6L519.1 469.7L513.1 469.4Z" fill="#111"/>
<path d="M279 526C289.2 525.8 319.8 525.2 340 524.5C360.2 523.8 380 522.8 400 521.5C420 520.2 440 518.5 460 517C480 515.5 500.8 514.4 520 512.5C539.2 510.6 556.5 508.2 575 505.5C593.5 502.8 612.2 499.7 631 496C649.8 492.3 669.4 487.2 687.6 483.5C705.8 479.8 727.9 476.5 740 474C752.1 471.5 748.7 472.2 760 468.5C771.3 464.8 793.4 457.2 807.6 452C821.8 446.8 834.6 441.7 845 437C855.4 432.3 863.5 427.8 870 424C876.5 420.2 881.7 416.1 884 414.5" fill="none" stroke="#111" stroke-width="4.4"/>
<path d="M279 526C289.2 525.8 319.8 525.2 340 524.5C360.2 523.8 380 522.8 400 521.5C420 520.2 440 518.5 460 517C480 515.5 500.8 514.4 520 512.5C539.2 510.6 556.5 508.2 575 505.5C593.5 502.8 612.2 499.7 631 496C649.8 492.3 669.4 487.2 687.6 483.5C705.8 479.8 727.9 476.5 740 474C752.1 471.5 748.7 472.2 760 468.5C771.3 464.8 793.4 457.2 807.6 452C821.8 446.8 834.6 441.7 845 437C855.4 432.3 863.5 427.8 870 424C876.5 420.2 881.7 416.1 884 414.5" fill="none" stroke="#111" stroke-width="10" stroke-dasharray="4.2 4"/>
<path d="M513 457.5C517.5 457.7 525.5 458.4 540 458.5C554.5 458.6 583.3 458.6 600 458C616.7 457.4 625.3 457 640 455C654.7 453 673 449 688 446C703 443 716.8 441.6 730 437C743.2 432.4 754.5 426.6 767 418.5C779.5 410.4 792.5 397.9 805 388.5C817.5 379.1 829.5 368.9 842 362C854.5 355.1 871.4 350.2 879.7 347C888 343.8 890 343.7 892 343" fill="none" stroke="#111" stroke-width="4.2" stroke-linecap="round"/>
<path d="M512 453C516.7 453.2 525.3 453.9 540 454C554.7 454.1 583.3 454.1 600 453.5C616.7 452.9 625.3 452.5 640 450.5C654.7 448.5 671.3 445 688 441.5C704.7 438 724.8 434.8 740 429.5C755.2 424.2 766.5 417.1 779 409.5C791.5 401.9 809 388.2 815 384" fill="none" stroke="#111" stroke-width="1.8"/>
<path d="M511 449.5C515.8 449.7 525.2 450.4 540 450.5C554.8 450.6 583.3 450.6 600 450C616.7 449.4 625.3 449 640 447C654.7 445 671.3 441.5 688 438C704.7 434.5 724.8 431.3 740 426C755.2 420.7 767.3 413 779 406C790.7 399 804.8 387.7 810 384" fill="none" stroke="#111" stroke-width="1.3"/>
<path d="M700 442C705 440.9 718.8 439.7 730 435.5C741.2 431.3 754.5 425.1 767 417C779.5 408.9 792.5 396.4 805 387C817.5 377.6 831.8 366.7 842 360.5C852.2 354.3 862 351.8 866 350" fill="none" stroke="#111" stroke-width="6.5" stroke-linecap="round"/>
<path d="M479 458C477.8 456.7 474.2 453.5 472 450C469.8 446.5 467.2 441.5 466 437C464.8 432.5 464.2 426.7 464.5 423C464.8 419.3 466.1 417 468 415C469.9 413 472.7 411.8 476 411C479.3 410.2 484.5 409.8 488 410C491.5 410.2 494.5 411.3 497 412.5C499.5 413.7 501.1 415.1 503 417C504.9 418.9 507 421.3 508.5 424C510 426.7 511.2 429.7 512 433C512.8 436.3 513.1 441 513 444C512.9 447 511.3 448.8 511.5 451C511.7 453.2 513.6 456 514 457" fill="none" stroke="#111" stroke-width="4.6" stroke-linejoin="round" stroke-linecap="round"/>
<path d="M473.5 454C472.9 452.9 471.2 450.4 469.6 447.1C468 443.8 464.9 438.6 463.6 434.1C462.4 429.6 461.8 423.8 462.1 420.1C462.4 416.4 463.7 414.1 465.6 412.1C467.5 410.1 470.3 408.9 473.6 408.1C476.9 407.3 482.1 406.9 485.6 407.1C489.1 407.4 492.1 408.4 494.6 409.6C497.1 410.8 498.7 412.2 500.6 414.1C502.5 416 504.6 418.4 506.1 421.1C507.6 423.8 508.9 426.8 509.6 430.1C510.4 433.4 510.4 439.3 510.6 441.1" fill="none" stroke="#111" stroke-width="1.9"/>
<path d="M473 454C472 452.4 469.2 448 467.2 444.2C465.2 440.4 462.4 435.7 461.2 431.2C459.9 426.7 459.4 420.9 459.7 417.2C460 413.5 461.3 411.2 463.2 409.2C465.1 407.2 467.9 406 471.2 405.2C474.5 404.4 479.7 403.9 483.2 404.2C486.7 404.4 489.7 405.5 492.2 406.7C494.7 407.9 496.3 409.3 498.2 411.2C500.1 413.1 502.2 415.5 503.7 418.2C505.2 420.9 506.4 423.9 507.2 427.2C507.9 430.5 508 436.4 508.2 438.2" fill="none" stroke="#111" stroke-width="1.7"/>
<path d="M472.5 454C471.2 451.9 467.1 445.6 464.8 441.3C462.5 437 460.1 432.8 458.8 428.3C457.6 423.8 457 418 457.3 414.3C457.6 410.6 458.9 408.3 460.8 406.3C462.7 404.3 465.5 403.1 468.8 402.3C472.1 401.5 477.3 401.1 480.8 401.3C484.3 401.6 487.3 402.6 489.8 403.8C492.3 405 493.9 406.4 495.8 408.3C497.7 410.2 499.8 412.6 501.3 415.3C502.8 418 504.1 421 504.8 424.3C505.6 427.6 505.6 433.5 505.8 435.3" fill="none" stroke="#111" stroke-width="1.4"/>
<path d="M472 454C470.4 451.4 465 443.2 462.4 438.4C459.8 433.6 457.6 429.9 456.4 425.4C455.1 420.9 454.6 415.1 454.9 411.4C455.2 407.7 456.5 405.4 458.4 403.4C460.3 401.4 463.1 400.2 466.4 399.4C469.7 398.6 474.9 398.1 478.4 398.4C481.9 398.6 484.9 399.7 487.4 400.9C489.9 402.1 491.5 403.5 493.4 405.4C495.3 407.3 497.4 409.7 498.9 412.4C500.4 415.1 501.6 418.1 502.4 421.4C503.1 424.7 503.2 430.6 503.4 432.4" fill="none" stroke="#111" stroke-width="1"/>
<path d="M250 475.5C266.7 474.4 325 470.9 350 469C375 467.1 385 465.9 400 464C415 462.1 430 458.9 440 457.5C450 456.1 454.7 455.8 460 455.5C465.3 455.2 468.8 455.6 472 456C475.2 456.4 477.8 457.7 479 458" fill="none" stroke="#111" stroke-width="0.8" stroke-linecap="butt"/>
<path d="M259 478C274.2 477 326.5 473.9 350 472C373.5 470.1 385 468.5 400 466.5C415 464.5 430 461.6 440 460.1C450 458.7 454.7 458.2 460 457.8C465.3 457.3 468.8 457.1 472 457.2C475.2 457.4 477.8 458.2 479 458.4" fill="none" stroke="#111" stroke-width="1.4" stroke-linecap="butt"/>
<path d="M268.8 481C282.3 480 328.1 477 350 475C371.9 473 385 471 400 469C415 467 430 464.2 440 462.8C450 461.2 454.7 460.7 460 460C465.3 459.3 468.8 458.7 472 458.5C475.2 458.3 477.8 458.7 479 458.8" fill="none" stroke="#111" stroke-width="2" stroke-linecap="butt"/>
<path d="M278 484C290 483 329.7 480.1 350 478C370.3 475.9 385 473.6 400 471.5C415 469.4 430 466.9 440 465.4C450 463.8 454.7 463.2 460 462.2C465.3 461.3 468.8 460.3 472 459.8C475.2 459.2 477.8 459.2 479 459.1" fill="none" stroke="#111" stroke-width="2.8" stroke-linecap="butt"/>
<path d="M287.5 488C297.9 486.8 331.2 483.3 350 481C368.8 478.7 385 476.2 400 474C415 471.8 430 469.6 440 468C450 466.4 454.7 465.7 460 464.5C465.3 463.3 468.8 461.8 472 461C475.2 460.2 477.8 459.8 479 459.5" fill="none" stroke="#111" stroke-width="3.8" stroke-linecap="butt"/>
<path d="M842 358C847 355.3 862 345.7 872 342C882 338.3 897 337 902 336" fill="none" stroke="#111" stroke-width="1.3"/>
<path d="M835 360C840.8 356.3 857.5 342.9 870 338C882.5 333.1 903.1 331.8 909.7 330.5" fill="none" stroke="#111" stroke-width="1.1"/>
<path d="M850 361C855 359.2 872 352.5 880 350C888 347.5 895 346.7 898 346" fill="none" stroke="#111" stroke-width="1.6"/>
<path d="M940 308C933.7 308.6 912 309.5 902 311.7C892 313.9 887.2 316.9 879.7 321C872.2 325.1 863.3 331 857 336C850.7 341 849.5 344.2 842 351C834.5 357.8 820.7 368.9 812 377C803.3 385.1 797.6 392.6 789.8 399.8C782 407 769.1 416.6 765 420" fill="none" stroke="#111" stroke-width="1.2"/>
<path d="M903.5 314.3C899.8 315.9 888.7 319.6 881.2 323.6C873.7 327.7 864.8 333.6 858.5 338.6C852.2 343.6 851 346.8 843.5 353.6C836 360.4 822.2 371.5 813.5 379.6C804.8 387.7 799.1 395.2 791.3 402.4C783.5 409.6 770.6 419.2 766.5 422.6" fill="none" stroke="#333" stroke-width="0.9"/>
<path d="M506 384C510.8 383 526 380.2 535 378C544 375.8 552.5 373.7 560 371C567.5 368.3 570.4 367.2 580 362C589.6 356.8 605.7 349.1 617.5 339.8C629.3 330.5 639.8 316.3 651 306C662.2 295.7 671.8 284.8 685 278C698.2 271.2 717.5 266.6 730 265C742.5 263.4 751.3 265.5 760 268.6C768.7 271.7 775.2 276.7 782 283.6C788.8 290.5 796.6 303.1 801 310C805.4 316.9 807.2 322.5 808.5 325" fill="none" stroke="#333" stroke-width="1.1"/>
<path d="M506.5 386C511.2 385.8 526.1 385.5 535 384.7C543.9 383.8 552.5 382.9 560 380.8C567.5 378.7 570.6 377.3 580 372C589.4 366.7 605.2 358.4 616.6 349.2C628 339.9 637.6 327.3 648.5 316.7C659.4 306 669.3 292.7 681.8 285.2C694.4 277.6 711.5 273.4 723.7 271.5C735.9 269.6 745.9 271 755 273.6C764.1 276.2 771.1 280.5 778.3 287C785.5 293.5 793.6 305.6 798.2 312.5C802.8 319.4 804.7 326 806 328.7" fill="none" stroke="#333" stroke-width="0.9"/>
<path d="M507 388C511.7 388.6 526.2 390.9 535 391.3C543.8 391.8 552.5 392.2 560 390.7C567.5 389.1 570.7 387.4 580 382C589.3 376.6 604.7 367.6 615.7 358.5C626.7 349.4 635.5 338.4 646 327.3C656.5 316.3 666.8 300.6 678.7 292.3C690.6 284.1 705.6 280.3 717.5 278C729.4 275.7 740.5 276.5 750 278.6C759.5 280.7 767.1 284.3 774.7 290.4C782.2 296.5 790.5 308 795.3 315C800.1 322 802.2 329.4 803.5 332.3" fill="none" stroke="#333" stroke-width="0.9"/>
<path d="M507.5 390C512.1 391.3 526.2 396.2 535 398C543.8 399.8 552.5 401.5 560 400.5C567.5 399.5 570.9 397.4 580 392C589.1 386.6 604.2 376.9 614.8 367.9C625.3 358.9 633.4 349.4 643.5 338C653.6 326.6 664.2 308.4 675.5 299.5C686.8 290.6 699.6 287.1 711.2 284.5C722.8 281.9 735 282.1 745 283.6C755 285.2 763.1 288.2 771 293.8C778.9 299.4 787.5 310.5 792.5 317.5C797.5 324.5 799.6 332.9 801 336" fill="none" stroke="#333" stroke-width="1.1"/>
<path d="M508 392C512.5 394.1 526.3 401.6 535 404.7C543.7 407.7 552.5 410.8 560 410.3C567.5 409.9 571 407.5 580 402C589 396.5 603.7 386.2 613.8 377.3C624 368.4 631.2 360.4 641 348.7C650.8 336.9 661.7 316.3 672.3 306.7C683 297.1 693.7 294 704.9 291C716.2 288 729.6 287.6 740 288.6C750.4 289.6 759.1 292 767.3 297.2C775.6 302.4 784.5 312.9 789.7 320C794.9 327.1 797.1 336.4 798.6 339.7" fill="none" stroke="#333" stroke-width="0.9"/>
<path d="M508.5 394C512.9 396.9 526.4 407 535 411.3C543.6 415.7 552.5 420.1 560 420.2C567.5 420.3 571.2 417.6 580 412C588.8 406.4 603.2 395.4 612.9 386.6C622.7 377.9 629.1 371.5 638.5 359.3C647.9 347.2 659.1 324.1 669.2 313.8C679.2 303.5 687.7 300.9 698.7 297.5C709.6 294.1 724.2 293.1 735 293.6C745.8 294.1 755 295.8 763.7 300.6C772.3 305.4 781.4 315.4 786.8 322.5C792.2 329.6 794.5 339.9 796.1 343.3" fill="none" stroke="#333" stroke-width="0.9"/>
<path d="M509 396C513.3 399.7 526.5 412.3 535 418C543.5 423.7 552.5 429.3 560 430C567.5 430.7 571.3 427.7 580 422C588.7 416.3 602.7 404.7 612 396C621.3 387.3 627 382.5 636 370C645 357.5 656.6 332 666 321C675.4 310 681.7 307.7 692.4 304C703.1 300.3 718.7 298.6 730 298.6C741.3 298.6 751 299.6 760 304C769 308.4 778.4 317.8 784 325C789.6 332.2 792 343.3 793.6 347" fill="none" stroke="#333" stroke-width="1.1"/>
<path d="M801 310C801.8 313.7 806.2 324.3 806 332C805.8 339.7 802.7 348 800 356C797.3 364 794 372.3 790 380C786 387.7 778.3 398.3 776 402" fill="none" stroke="#333" stroke-width="0.9"/>
<path d="M798 314C799 317.5 804.2 327.7 804 335C803.8 342.3 799.7 350.5 797 358C794.3 365.5 791.5 372.7 788 380C784.5 387.3 778 398.3 776 402" fill="none" stroke="#333" stroke-width="0.9"/>
<path d="M795 318C796.2 321.3 802.2 331 802 338C801.8 345 796.7 353 794 360C791.3 367 789 373 786 380C783 387 777.7 398.3 776 402" fill="none" stroke="#333" stroke-width="0.9"/>
<path d="M792 322C793.3 325.2 800.2 334.3 800 341C799.8 347.7 793.7 355.5 791 362C788.3 368.5 786.5 373.3 784 380C781.5 386.7 777.3 398.3 776 402" fill="none" stroke="#333" stroke-width="0.9"/>
<path d="M648 305.7h0M685.7 278.5h0M766.4 272.8h0M611 346h0M566 374h0" fill="none" stroke="#111" stroke-width="3.4" stroke-linecap="round"/>
<path d="M508 390C512.5 390.3 526.3 391 535 392C543.7 393 550.8 396 560 396C569.2 396 580 390.7 590 392C600 393.3 610 398.7 620 404C630 409.3 638.3 418.3 650 424C661.7 429.7 676.7 436 690 438C703.3 440 723.3 436.3 730 436" fill="none" stroke="#444" stroke-width="0.8"/>
<path d="M508 391.8C512.5 392.7 526.3 395.1 535 397C543.7 398.9 550.8 402.5 560 403C569.2 403.5 580 398.7 590 400C600 401.3 610 406.3 620 411C630 415.7 638.3 423.3 650 428C661.7 432.7 676.7 437.9 690 439.2C703.3 440.5 723.3 436.5 730 436" fill="none" stroke="#444" stroke-width="0.8"/>
<path d="M508 393.6C512.5 395 526.3 399.3 535 402C543.7 404.7 550.8 409 560 410C569.2 411 580 406.7 590 408C600 409.3 610 414 620 418C630 422 638.3 428.3 650 432C661.7 435.7 676.7 439.7 690 440.4C703.3 441.1 723.3 436.7 730 436" fill="none" stroke="#444" stroke-width="0.8"/>
<path d="M508 395.4C512.5 397.3 526.3 403.4 535 407C543.7 410.6 550.8 415.5 560 417C569.2 418.5 580 414.7 590 416C600 417.3 610 421.7 620 425C630 428.3 638.3 433.2 650 436C661.7 438.8 676.7 441.6 690 441.6C703.3 441.6 723.3 436.9 730 436" fill="none" stroke="#444" stroke-width="0.8"/>
<path d="M508 397.2C512.5 399.7 526.3 407.5 535 412C543.7 416.5 550.8 422 560 424C569.2 426 580 422.7 590 424C600 425.3 610 429.3 620 432C630 434.7 638.3 438.2 650 440C661.7 441.8 676.7 443.5 690 442.8C703.3 442.1 723.3 437.1 730 436" fill="none" stroke="#444" stroke-width="0.8"/>
<path d="M737.2 370A30 30 0 0 1 752.8 312" fill="none" stroke="#444" stroke-width="0.8"/>
<path d="M737.9 374.5A34.2 34.2 0 1 1 756.1 308.7" fill="none" stroke="#444" stroke-width="0.8"/>
<path d="M739 378.9A38.4 38.4 0 1 1 760 305.7" fill="none" stroke="#444" stroke-width="0.8"/>
<path d="M740.5 383.4A42.6 42.6 0 1 1 764.3 303" fill="none" stroke="#444" stroke-width="0.8"/>
<path d="M742.6 387.7A46.8 46.8 0 1 1 769.1 300.9" fill="none" stroke="#444" stroke-width="0.8"/>
<path d="M745 392A51 51 0 1 1 774.3 299.2" fill="none" stroke="#444" stroke-width="0.8"/>
<path d="M745 373.6C748.7 373.3 760.8 374.2 767 371.7C773.2 369.2 778.5 363.9 782 358.6C785.5 353.3 787.7 345.6 788 340C788.3 334.4 784.7 327.5 784 325" fill="none" stroke="#a2a2a2" stroke-width="1.3"/>
<path d="M746.5 374.4C749.9 374.1 761 374.9 767 372.3C773 369.7 778.9 364 782.5 358.6C786.1 353.2 788.4 345.8 788.7 340C789 334.2 785.2 326.7 784.5 324" fill="none" stroke="#a2a2a2" stroke-width="1.3"/>
<path d="M748 375.2C751.2 374.8 761.2 375.7 767 372.9C772.8 370.1 779.3 364.1 783 358.6C786.7 353.1 789.1 345.9 789.4 340C789.7 334.1 785.7 325.8 785 323" fill="none" stroke="#a2a2a2" stroke-width="1.3"/>
<path d="M749.5 376C752.4 375.6 761.3 376.4 767 373.5C772.7 370.6 779.6 364.2 783.5 358.6C787.4 353 789.8 346.1 790.1 340C790.4 333.9 786.3 325 785.5 322" fill="none" stroke="#a2a2a2" stroke-width="1.3"/>
<path d="M751 376.8C753.7 376.4 761.5 377.1 767 374.1C772.5 371.1 780 364.3 784 358.6C788 352.9 790.5 346.3 790.8 340C791.1 333.7 786.8 324.2 786 321" fill="none" stroke="#a2a2a2" stroke-width="1.3"/>
<circle cx="798" cy="276" r="23.7" fill="none" stroke="#111" stroke-width="2.1"/>
<path d="M792.4 269.5h11.2M798 263.9v11.2" fill="none" stroke="#111" stroke-width="2.6"/>
<path d="M822 275L817.4 267.8L823.3 266.5Z" fill="#111"/>
<circle cx="861" cy="287" r="23.7" fill="none" stroke="#111" stroke-width="2.1"/>
<path d="M855.4 281h11.2M861 275.4v11.2" fill="none" stroke="#111" stroke-width="2.6"/>
<path d="M885 287.7L880.9 280.2L886.9 279.3Z" fill="#111"/>
<circle cx="834" cy="328" r="23.7" fill="none" stroke="#111" stroke-width="2.1"/>
<path d="M828.4 327h11.2M834 321.4v11.2" fill="none" stroke="#111" stroke-width="2.6"/>
<path d="M855.9 338L855 329.5L860.8 331Z" fill="#111"/>
<circle cx="713.9" cy="388.2" r="23.7" fill="none" stroke="#111" stroke-width="2.1"/>
<path d="M709.2 391h11.2M714.8 385.4v11.2" fill="none" stroke="#111" stroke-width="2.6"/>
<path d="M737.4 383L731.6 376.7L737.2 374.5Z" fill="#111"/>
<circle cx="854" cy="395" r="23.7" fill="none" stroke="#111" stroke-width="2.1"/>
<path d="M846.4 399h11.2M852 393.4v11.2" fill="none" stroke="#111" stroke-width="2.6"/>
<path d="M878 394L873.4 386.8L879.3 385.5Z" fill="#111"/>
<circle cx="815" cy="287" r="3.7" fill="none" stroke="#111" stroke-width="1.7"/>
<circle cx="831.5" cy="291" r="3.7" fill="none" stroke="#111" stroke-width="1.7"/>
<circle cx="811" cy="303" r="3.7" fill="none" stroke="#111" stroke-width="1.7"/>
<circle cx="828" cy="302" r="3.7" fill="none" stroke="#111" stroke-width="1.7"/>
<circle cx="822" cy="403.5" r="3.7" fill="none" stroke="#111" stroke-width="1.7"/>
<circle cx="815" cy="416" r="3.7" fill="none" stroke="#111" stroke-width="1.7"/>
<circle cx="828" cy="416" r="3.7" fill="none" stroke="#111" stroke-width="1.7"/>
<path d="M746.6 321.6h5.8M730.7 330h5.8M743.8 341.9h5.8M730.7 350.3h5.8M743.4 358.2h5.8" fill="none" stroke="#111" stroke-width="2.6"/>
<path d="M694.7 405.6A63 63 0 0 1 724.7 293.6" fill="none" stroke="#111" stroke-width="3.4"/>
<path d="M724.7 293.6A63 63 0 1 1 694.7 405.6" fill="none" stroke="#111" stroke-width="2"/>
<path d="M689.2 401.3L703.8 405.4L696.7 414.5ZM672.5 373.1L683 383.9L672.4 388.2ZM678.2 324.9L678.1 340.1L667.5 335.6ZM700.2 302L692.7 315.2L685.7 306.1ZM777.3 401.9L782 387.6L790.5 394.7ZM715.7 416.8L730.4 413.8L728.5 424.7Z" fill="#111"/>
<path d="M742.6 180.5L740.2 155M754.4 180.5L752.6 155M765.9 180.5L764.7 155M777.2 180.5L776.6 155M789 180.5L789 155" fill="none" stroke="#111" stroke-width="1.5"/>
<path d="M740.2 147.5L744 157L736.5 157ZM752.6 147.5L756.4 157L748.9 157ZM764.7 147.5L768.5 157L761 157ZM776.6 147.5L780.4 157L772.9 157ZM789 147.5L792.8 157L785.2 157Z" fill="#111"/>
<path d="M547 492Q562 477 577 492Q562 507 547 492Z" fill="none" stroke="#333" stroke-width="0.9"/>
<path d="M570.3 482.5Q585.3 467.5 600.3 482.5Q585.3 497.5 570.3 482.5Z" fill="none" stroke="#333" stroke-width="0.9"/>
<path d="M590 472Q605 457 620 472Q605 487 590 472Z" fill="none" stroke="#333" stroke-width="0.9"/>
<path d="M600.3 488Q615.3 473 630.3 488Q615.3 503 600.3 488Z" fill="none" stroke="#333" stroke-width="0.9"/>
<path d="M622.8 480.6Q637.8 465.6 652.8 480.6Q637.8 495.6 622.8 480.6Z" fill="none" stroke="#333" stroke-width="0.9"/>
<path d="M640.6 472Q655.6 457 670.6 472Q655.6 487 640.6 472Z" fill="none" stroke="#333" stroke-width="0.9"/>
<path d="M663 467.5Q678 452.5 693 467.5Q678 482.5 663 467.5Z" fill="none" stroke="#333" stroke-width="0.9"/>
<path d="M685 462Q700 447 715 462Q700 477 685 462Z" fill="none" stroke="#333" stroke-width="0.9"/>
<path d="M331.5 512Q342 503 352.5 512Q342 521 331.5 512Z" fill="none" stroke="#333" stroke-width="0.9"/>
<path d="M353.9 507Q364.4 498 374.9 507Q364.4 516 353.9 507Z" fill="none" stroke="#333" stroke-width="0.9"/>
<path d="M378.3 502.5Q388.8 493.5 399.3 502.5Q388.8 511.5 378.3 502.5Z" fill="none" stroke="#333" stroke-width="0.9"/>
<path d="M379.3 512.8Q389.8 503.8 400.3 512.8Q389.8 521.8 379.3 512.8Z" fill="none" stroke="#333" stroke-width="0.9"/>
<path d="M401.8 508Q412.3 499 422.8 508Q412.3 517 401.8 508Z" fill="none" stroke="#333" stroke-width="0.9"/>
<path d="M419.5 504.4Q430 495.4 440.5 504.4Q430 513.4 419.5 504.4Z" fill="none" stroke="#333" stroke-width="0.9"/>
<path d="M436.5 503.4Q447 494.4 457.5 503.4Q447 512.4 436.5 503.4Z" fill="none" stroke="#333" stroke-width="0.9"/>
<path d="M535 482.5h10.6M540.3 477.2v10.6" fill="none" stroke="#111" stroke-width="2.2"/>
<path d="M559.2 493h5.6M562 490.2v5.6" fill="none" stroke="#111" stroke-width="1.2"/>
<path d="M583.2 482.5h5.6M586 479.7v5.6" fill="none" stroke="#111" stroke-width="1.2"/>
<path d="M635.7 482h5.6M638.5 479.2v5.6" fill="none" stroke="#111" stroke-width="1.2"/>
<path d="M404.8 498.8h5.6M407.6 496v5.6" fill="none" stroke="#111" stroke-width="1.3"/>
<circle cx="436" cy="692" r="33" fill="none" stroke="#111" stroke-width="2.3"/>
<path d="M446.4 688.5h11.2M452 682.9v11.2" fill="none" stroke="#111" stroke-width="2.6"/>
<path d="M463.3 711L464.4 702.6L469.7 705.4ZM448 723L453.6 716.6L456.4 721.9ZM407 708.2L414.1 712.9L409.2 716.4ZM403 696.1L407.9 703.1L402 704.6ZM409.4 672L408 680.5L402.8 677.5ZM420.9 662.4L415.9 669.4L412.6 664.4Z" fill="#111"/>
<circle cx="634" cy="610" r="29.5" fill="none" stroke="#111" stroke-width="2.3"/>
<path d="M634.4 606h11.2M640 600.4v11.2" fill="none" stroke="#111" stroke-width="2.6"/>
<path d="M606.5 621.3L613.1 626.7L607.9 629.7ZM604.3 608.6L607.9 616.3L602 616.8ZM607.6 596.2L607.7 604.7L602.1 602.6ZM615.8 633.5L624.2 634.9L621.2 640.1ZM627.4 639L635.7 636.7L635.2 642.7ZM660.4 623.8L660.3 615.3L665.9 617.4Z" fill="#111"/>
<circle cx="735" cy="691" r="32.5" fill="none" stroke="#111" stroke-width="2.3"/>
<path d="M729.4 692h11.2M735 686.4v11.2" fill="none" stroke="#111" stroke-width="2.6"/>
<path d="M761.1 710.7L762.5 702.3L767.7 705.3ZM747.8 721.1L753.2 714.5L756.2 719.7ZM733.8 723.7L741.6 720L742.1 726ZM720.1 720.2L728.7 720.1L726.6 725.7ZM703.1 698.4L708.6 704.8L703 706.9ZM705.8 676.1L705.9 684.7L700.3 682.6ZM716.2 664.2L712.3 671.8L708.3 667.3Z" fill="#111"/>
<circle cx="325.7" cy="764.3" r="33.2" fill="none" stroke="#111" stroke-width="2.3"/>
<path d="M336.1 760.8h11.2M341.7 755.2v11.2" fill="none" stroke="#111" stroke-width="2.6"/>
<path d="M353.1 783.4L354.2 774.9L359.5 777.8ZM343 792.9L347.4 785.6L351.1 790.4ZM330.4 797.4L337.4 792.4L338.9 798.2ZM316 796.3L324.4 794.7L323.4 800.6ZM292.3 766.1L296.7 773.5L290.7 774.5Z" fill="#111"/>
<circle cx="470.2" cy="889.2" r="32.6" fill="none" stroke="#111" stroke-width="2.3"/>
<path d="M480.9 884.7h11.2M486.5 879.1v11.2" fill="none" stroke="#111" stroke-width="2.6"/>
<path d="M500.7 901.5L499.8 893L505.6 894.6ZM488.1 916.7L492.3 909.3L496.1 913.9ZM474.8 921.7L481.7 916.8L483.3 922.6ZM460.6 920.6L469 919L468 925ZM448.2 913.6L456.5 915.7L453.1 920.7ZM437.4 888.1L441.1 895.8L435.1 896.3ZM445.8 867.2L443.7 875.5L438.7 872.1Z" fill="#111"/>
<circle cx="820" cy="760.4" r="32.8" fill="none" stroke="#111" stroke-width="2.3"/>
<path d="M829.5 756h11.2M835.1 750.4v11.2" fill="none" stroke="#111" stroke-width="2.6"/>
<path d="M848 777.9L848.7 769.4L854.1 771.9ZM824.6 793.1L831.6 788.1L833.1 793.9ZM810.4 792L818.8 790.4L817.7 796.4ZM787.8 767.9L793.4 774.4L787.7 776.4ZM789.4 748L790.2 756.6L784.4 755ZM799.6 734.4L796.1 742.2L791.9 737.9Z" fill="#111"/>
<text font-size="4.5" fill="#666" stroke="none" transform="translate(428 657.5) rotate(12)">feedback</text>
<text font-size="4.5" fill="#666" stroke="none" transform="translate(626 579) rotate(12)">feedback</text>
<text font-size="4.5" fill="#666" stroke="none" transform="translate(727 657) rotate(12)">feedback</text>
<text font-size="4.5" fill="#666" stroke="none" transform="translate(317.7 729.6) rotate(12)">feedback</text>
<text font-size="4.5" fill="#666" stroke="none" transform="translate(462.2 855.1) rotate(12)">feedback</text>
<text font-size="4.5" fill="#666" stroke="none" transform="translate(812 726.1) rotate(12)">feedback</text>
<path d="M389.2 611.5L401.7 632.5L414.2 611.5M389.2 616.3L401.7 637.3L414.2 616.3M389.2 621.1L401.7 642.1L414.2 621.1" fill="none" stroke="#111" stroke-width="1.5"/>
<path d="M530.9 700.5L543.4 721.5L555.9 700.5M530.9 705.3L543.4 726.3L555.9 705.3M530.9 710.1L543.4 731.1L555.9 710.1" fill="none" stroke="#111" stroke-width="1.5"/>
<path d="M736.5 567.5L749 588.5L761.5 567.5M736.5 572.3L749 593.3L761.5 572.3M736.5 577.1L749 598.1L761.5 577.1" fill="none" stroke="#111" stroke-width="1.5"/>
<path d="M765 659L777.5 680L790 659M765 663.8L777.5 684.8L790 663.8M765 668.6L777.5 689.6L790 668.6" fill="none" stroke="#111" stroke-width="1.5"/>
<path d="M426 764.5C428.3 764.6 428.3 766.2 440 765C451.7 763.8 477.2 761.2 496 757.5C514.8 753.8 533.8 750 552.6 742.5C571.4 735 594.4 721.9 609 712.5C623.6 703.1 632 695.6 640 686C648 676.4 651.6 671 657 655C662.4 639 668.3 606.5 672.5 590C676.7 573.5 679.2 565.4 682 556C684.8 546.6 686.3 542.2 689.4 533.8C692.5 525.4 698.2 515.1 700.7 505.7C703.2 496.3 704.1 486.9 704.4 477.5C704.7 468.1 702.9 454.1 702.6 449.4" fill="none" stroke="#111" stroke-width="2"/>
<path d="M701.5 500L703.7 510.5L695.8 509.2Z" fill="#111"/>
<path d="M713.3 466L702.5 582.6L694 640" fill="none" stroke="#111" stroke-width="2"/>
<path d="M713.8 456.5L719.7 469.1L705.8 467.8Z" fill="#111"/>
<path d="M667 458.8L704.4 475.6L732.6 482L762.6 485L786 482.5" fill="none" stroke="#111" stroke-width="1.6" stroke-dasharray="4 3.4"/>
<path d="M498.5 480C500.1 486.7 504.5 507.1 508 520C511.5 532.9 514.7 545.9 519.4 557.5C524.1 569.1 529.1 576.9 536.3 589.4C543.5 601.9 553.8 619.2 562.6 632.6C571.4 646 580.5 658.8 588.9 670C597.3 681.2 604.8 691 613.3 700C621.8 709 629.3 715.8 640 723.8C650.7 731.8 665 739.9 677.5 748C690 756.1 702.5 765.3 715 772.5C727.5 779.7 740.1 785.7 752.6 791.3C765.1 796.9 777.5 801.9 790 806.3C802.5 810.7 812.6 813.7 827.6 817.6C842.6 821.5 862.1 826.4 880 829.8C897.9 833.2 925.8 836.6 935 838" fill="none" stroke="#111" stroke-width="1.8"/>
<path d="M533.5 581L540.8 587.3L534.6 590.6Z" fill="#111"/>
<path d="M496.6 468.5L505.6 481.8L494.4 484.4Z" fill="#111"/>
<path d="M540 600.6C541.3 603.8 545.3 613.9 548 620C550.7 626.1 554.7 634.2 556 637" fill="none" stroke="#555" stroke-width="0.8"/>
<path d="M450.5 550C451.1 555 452.2 566.2 454 580C455.8 593.8 458.3 617.6 461 632.6C463.7 647.6 467.2 660.4 470 670C472.8 679.6 475 680.4 477.5 690C480 699.6 482.2 716.9 485 727.5C487.8 738.1 490.3 747.5 494.4 753.8C498.5 760 502.8 763.1 509.4 765C516 766.9 528.5 762.8 533.8 765C539.1 767.2 540.4 771.8 541.3 778C542.2 784.2 538.8 795.3 539.4 802.5C540 809.7 541.6 815.1 545 821C548.4 826.9 555 832.2 560 838C565 843.8 572.5 852.6 575 855.5M454.3 549.5C454.9 554.6 456.1 566.1 458 580C459.9 593.9 463.2 617.9 466 632.6C468.8 647.3 471.2 660.3 475 668C478.8 675.7 485.2 675.3 489 679C492.8 682.7 496.7 686.7 498 690C499.3 693.3 498.9 695.9 497 699C495.1 702.1 488 704.7 486.9 708.8C485.8 712.9 487.5 718.5 490.6 723.8C493.7 729.1 499 735.9 505.6 740.6C512.2 745.3 523.4 747.3 530 752C536.6 756.7 542.2 763.2 545 768.8C547.8 774.4 544.4 780.3 546.9 785.6C549.4 790.9 557.5 794.7 560 800.6C562.5 806.5 558.9 812.4 562 821C565.1 829.6 576 847.2 578.8 852.5M450.5 550L454.3 549.5M575 855.5L578.8 852.5" fill="none" stroke="#111" stroke-width="2"/>
<path d="M583.3 570.6C583.2 573.8 583.9 583.1 583 590C582.1 596.9 579.2 606.2 578 612C576.8 617.8 574.9 620.7 575.7 625C576.5 629.3 580.2 634.2 583 638C585.8 641.8 590.2 642.3 592.6 647.6C595 652.9 597.4 662.9 597.3 670C597.2 677.1 594.5 682 592 690C589.5 698 584.8 708.6 582.6 718C580.4 727.4 578.8 738.5 578.8 746.3C578.8 754.1 577.6 761.5 582.6 765C587.6 768.5 603.3 763.9 608.9 767C614.5 770.1 613.3 775.4 616.4 783.8C619.5 792.2 625.5 805.7 627.6 817.6C629.8 829.5 629 848.8 629.3 855M587 570.6C587.5 573.8 588.8 584.4 590 590C591.2 595.6 592.7 597.3 594.5 604.4C596.3 611.5 599.6 621.7 601 632.6C602.4 643.5 603.6 660.4 603 670C602.4 679.6 598.2 682 597.6 690C597 698 597.6 707.7 599.5 718C601.4 728.3 603.6 745.1 608.9 752C614.2 758.9 626.7 755.1 631.4 759.4C636.1 763.7 635.8 770.8 637 778C638.2 785.2 639.5 792.2 638.9 802.5C638.3 812.8 634.4 831.2 633.3 840C632.2 848.8 632.6 852.5 632.5 855M583.3 570.6L587 570.6M629.3 855L632.5 855" fill="none" stroke="#111" stroke-width="2"/>
<path d="M675.5 500C675.6 506.7 676.2 525 676 540C675.8 555 674.7 573.3 674 590C673.3 606.7 671.3 626.3 672 640C672.7 653.7 675.8 663.7 678 672C680.2 680.3 682.9 683.9 685 690C687.1 696.1 688.8 701 690.7 708.8C692.6 716.6 694.1 727.5 696.3 736.9C698.5 746.3 702.1 755.3 703.8 765C705.5 774.7 706.9 785.6 706.6 795C706.3 804.4 704.5 813.8 701.9 821.3C699.2 828.8 694.7 834.9 690.7 840C686.7 845.1 680.1 850 678 852M679.5 500C679.6 506.7 680.2 525 680 540C679.8 555 678.7 573.3 678 590C677.3 606.7 675.3 626.3 676 640C676.7 653.7 679.9 663.7 682 672C684.1 680.3 686.7 683.9 688.8 690C690.9 696.1 692.5 701 694.5 708.8C696.5 716.6 698.2 727.5 700.5 736.9C702.8 746.3 706.2 755.3 708 765C709.8 774.7 711.3 785.5 711 795C710.7 804.5 708.8 814.1 706 822C703.2 829.9 698.5 836.8 694.5 842.5C690.5 848.2 684.1 853.8 682 856M675.5 500L679.5 500M678 852L682 856" fill="none" stroke="#111" stroke-width="1.8"/>
<path d="M688.8 690C690 693.8 692.9 705.6 696.3 712.5C699.7 719.4 706.8 725 709.4 731.3C712 737.5 712.1 742.8 712.2 750C712.4 757.2 710.8 766.3 710.3 774.4C709.8 782.5 709.5 794.7 709.4 798.8" fill="none" stroke="#111" stroke-width="1.5"/>
<path d="M482.8 613.8C482 610.2 479.9 598.4 478 592C476.1 585.6 472.7 578.1 471.6 575.3" fill="none" stroke="#333" stroke-width="0.9"/>
<path d="M470.9 573.4L476 579L470.8 581Z" fill="#111"/>
<path d="M517.5 700C514.9 695.8 507.6 682.7 502 675C496.4 667.3 486.8 657.5 483.8 654" fill="none" stroke="#333" stroke-width="0.9"/>
<path d="M482.5 652.5L489.2 656L485 659.6Z" fill="#111"/>
<path d="M568 700C566.7 695.8 562.7 683.3 560 675C557.3 666.7 553.3 654.4 552 650.3" fill="none" stroke="#333" stroke-width="0.9"/>
<path d="M551.4 648.4L556.2 654.2L550.9 655.9Z" fill="#111"/>
<path d="M496.3 782C494.2 777.5 487.4 763.9 484 755C480.6 746.1 477 732.9 475.6 728.5" fill="none" stroke="#333" stroke-width="0.9"/>
<path d="M475 726.6L479.7 732.4L474.5 734.1Z" fill="#111"/>
<path d="M552.6 782C550.5 777.5 544.5 763 540 755C535.5 747 527.8 737.5 525.4 734" fill="none" stroke="#333" stroke-width="0.9"/>
<path d="M524.3 732.4L530.5 736.5L526 739.7Z" fill="#111"/>
<path d="M614.5 838C612.4 833.7 605.5 820.7 602 812C598.5 803.3 595.2 790.1 593.8 785.7" fill="none" stroke="#333" stroke-width="0.9"/>
<path d="M593.2 783.8L597.9 789.7L592.7 791.3Z" fill="#111"/>
<path d="M672 745C671.3 742.5 668.7 735.1 668 730C667.3 724.9 668 717 668 714.4" fill="none" stroke="#333" stroke-width="0.9"/>
<path d="M668 712.4L670.8 719.4L665.2 719.4Z" fill="#111"/>
<path d="M687 746C685.8 742.5 681.7 731.8 680 725C678.3 718.2 677.2 708.3 676.6 705" fill="none" stroke="#333" stroke-width="0.9"/>
<path d="M676.3 703L680.1 709.5L674.7 710.4Z" fill="#111"/>
<path d="M741 825C740.3 820 739.2 803.8 737 795C734.8 786.2 729.5 776.2 728 772.5" fill="none" stroke="#333" stroke-width="0.9"/>
<path d="M727.3 770.6L732.4 776.1L727.3 778.2Z" fill="#111"/>
<path d="M656 600C656.7 595 660 579.3 660 570C660 560.7 656.7 548.7 656 544.4" fill="none" stroke="#333" stroke-width="0.9"/>
<path d="M655.7 542.4L659.5 548.9L654.1 549.8Z" fill="#111"/>
<path d="M700 660C698.3 656.7 692.7 645.8 690 640C687.3 634.2 685 627.5 684 625" fill="none" stroke="#333" stroke-width="0.9"/>
<path d="M683.3 623.1L688.4 628.6L683.3 630.7Z" fill="#111"/>
<path d="M718 640C717 635 714.3 619.2 712 610C709.7 600.8 705.3 589.2 704 585" fill="none" stroke="#333" stroke-width="0.9"/>
<path d="M703.4 583.1L708.1 588.9L702.9 590.6Z" fill="#111"/>
<path d="M610 890C608.7 886.7 604.3 876.7 602 870C599.7 863.3 597 853.3 596 850" fill="none" stroke="#333" stroke-width="0.9"/>
<path d="M595.4 848.1L600.1 854L594.8 855.6Z" fill="#111"/>
<path d="M563.8 821.3C569 820.9 585.3 820.2 595 819C604.7 817.8 617.5 814.7 622 813.8" fill="none" stroke="#333" stroke-width="1"/>
<path d="M624 813.4L617.7 817.7L616.5 811.8Z" fill="#111"/>
<path d="M695 466C692.5 470 685.2 481.4 680 490C674.8 498.6 666.5 512.9 663.8 517.5" fill="none" stroke="#333" stroke-width="1"/>
<path d="M662.8 519.2L664.6 506.3L673.2 511.4Z" fill="#111"/>
<path d="M732.5 495C729.8 499.2 721.4 511.2 716 520C710.6 528.8 702.7 542.9 700 547.5" fill="none" stroke="#333" stroke-width="1"/>
<path d="M699 549.2L700.7 536.3L709.4 541.4Z" fill="#111"/>
<path d="M771 512.5C768.2 516.8 759.6 529.2 754 538C748.4 546.8 740.2 560.5 737.5 565" fill="none" stroke="#333" stroke-width="1"/>
<path d="M736.5 566.7L738.4 553.9L747 559.1Z" fill="#111"/>
<path d="M703.8 585C706.5 580.8 714.8 568.3 720 560C725.2 551.7 732.5 539.2 735 535" fill="none" stroke="#333" stroke-width="0.9"/>
<path d="M736 533.3L734.8 540.7L730.1 537.9Z" fill="#111"/>
<path d="M574 820.4h6M577 817.4v6" fill="none" stroke="#111" stroke-width="1.2"/>
<path d="M680 796C675.8 795.9 663.6 796 655 795.5C646.4 795 633 793.2 628.6 792.8" fill="none" stroke="#333" stroke-width="1"/>
<path d="M626.6 792.6L633.9 790.3L633.3 796.3Z" fill="#111"/>
<path d="M795.7 790.4C800.6 790 815.3 789.2 825 788C834.7 786.8 849.1 783.8 853.9 782.9" fill="none" stroke="#333" stroke-width="1"/>
<path d="M855.9 782.6L849.5 786.7L848.5 780.8Z" fill="#111"/>
<path d="M464.4 812H562" fill="none" stroke="#111" stroke-width="3.6"/>
<path d="M484 829.8H581.6" fill="none" stroke="#111" stroke-width="3.6" stroke-dasharray="4.7 2.8"/>
<path d="M580.7 808.6H627.6" fill="none" stroke="#111" stroke-width="3.6" stroke-dasharray="4.7 2.8"/>
<path d="M628.5 808.6H726.3" fill="none" stroke="#111" stroke-width="3.8"/>
<path d="M617.3 828.8H715" fill="none" stroke="#111" stroke-width="3.8"/>
<path d="M715 828.8H754.4" fill="none" stroke="#111" stroke-width="3.6" stroke-dasharray="4.7 2.8"/>
<path d="M657.8 784.7H696.3" fill="none" stroke="#111" stroke-width="3.6" stroke-dasharray="4.7 2.8"/>
<path d="M697.2 784.7H795.7" fill="none" stroke="#111" stroke-width="3.8"/>
<path d="M489 827.1L500 816.6L511.5 827.1" fill="none" stroke="#111" stroke-width="1.9"/>
<path d="M710.6 799.9L721.6 789.4L733.1 799.9" fill="none" stroke="#111" stroke-width="1.9"/>
<path d="M735.6 802.4L729.4 800.1L733.3 796.2Z" fill="#111"/>
<path d="M767.8 800.9L778.8 790.4L790.3 800.9" fill="none" stroke="#111" stroke-width="1.9"/>
<path d="M765.3 803.4L767.6 797.2L771.5 801.1ZM792.8 803.4L786.6 801.1L790.5 797.2Z" fill="#111"/>
<path d="M648.7 844L659.7 833.5L671.2 844" fill="none" stroke="#111" stroke-width="1.9"/>
<path d="M646.2 846.5L648.5 840.3L652.4 844.2ZM673.7 846.5L667.5 844.2L671.4 840.3Z" fill="#111"/>
<path transform="translate(473.8 795) scale(1)" d="M-4.7 -5.5h9.4v6.5h-9.4zM-3 -7.2h6M-4.7 1v8M4.7 1v8M-6.5 5.2h13M-4.7 -3.5L-13 -10.5M4.7 -3.5L13 -10.5M-14.5 -9l3 -3.2M14.5 -9l-3 -3.2" fill="none" stroke="#111" stroke-width="1.9"/>
<path transform="translate(652.2 765) scale(1)" d="M-4.7 -5.5h9.4v6.5h-9.4zM-3 -7.2h6M-4.7 1v8M4.7 1v8M-6.5 5.2h13M-4.7 -3.5L-13 -10.5M4.7 -3.5L13 -10.5M-14.5 -9l3 -3.2M14.5 -9l-3 -3.2" fill="none" stroke="#111" stroke-width="1.9"/>
<path transform="translate(742.3 761.3) scale(1)" d="M-4.7 -5.5h9.4v6.5h-9.4zM-3 -7.2h6M-4.7 1v8M4.7 1v8M-6.5 5.2h13M-4.7 -3.5L-13 -10.5M4.7 -3.5L13 -10.5M-14.5 -9l3 -3.2M14.5 -9l-3 -3.2" fill="none" stroke="#111" stroke-width="1.9"/>
<path transform="translate(443 486) scale(1)" d="M-4.7 -5.5h9.4v6.5h-9.4zM-3 -7.2h6M-4.7 1v8M4.7 1v8M-6.5 5.2h13M-4.7 -3.5L-13 -10.5M4.7 -3.5L13 -10.5M-14.5 -9l3 -3.2M14.5 -9l-3 -3.2" fill="none" stroke="#111" stroke-width="1.9"/>
<path transform="translate(633 468) scale(0.8)" d="M-4.7 -5.5h9.4v6.5h-9.4zM-3 -7.2h6M-4.7 1v8M4.7 1v8M-6.5 5.2h13" fill="none" stroke="#111" stroke-width="1.9"/>
<path d="M510.2 799.7h6M513.2 796.7v6" fill="none" stroke="#111" stroke-width="1.5"/>
<circle cx="523.6" cy="799.4" r="3.8" fill="none" stroke="#111" stroke-width="1.9"/>
<path d="M605.9 799.7h6M608.9 796.7v6" fill="none" stroke="#111" stroke-width="1.5"/>
<circle cx="619.3" cy="799.4" r="3.8" fill="none" stroke="#111" stroke-width="1.9"/>
<path d="M682 776h6M685 773v6" fill="none" stroke="#111" stroke-width="1.5"/>
<circle cx="695.4" cy="775.7" r="3.8" fill="none" stroke="#111" stroke-width="1.9"/>
<path d="M807.4 155.6A51.5 51.5 0 0 1 858.9 188.1M806.3 140.1A67.1 67.1 0 0 1 873.4 182.4M805.2 124.5A82.7 82.7 0 0 1 887.9 176.7M804.1 108.9A98.3 98.3 0 0 1 902.5 171M803.1 93.4A113.9 113.9 0 0 1 917 165.3M802 77.8A129.5 129.5 0 0 1 931.5 159.5" fill="none" stroke="#111" stroke-width="3.9" stroke-linecap="round"/>
<path d="M246.4 629.3A13.6 13.6 0 0 1 244.2 608M241.5 634.5A19.7 19.7 0 0 1 238.3 603.6M236.6 639.6A25.8 25.8 0 0 1 232.4 599.3M231.7 644.8A31.8 31.8 0 0 1 226.5 594.9M226.8 650A37.9 37.9 0 0 1 220.6 590.5M221.9 655.1A44 44 0 0 1 214.7 586.1" fill="none" stroke="#111" stroke-width="2.7" stroke-linecap="round"/>
<path d="M1004 673.1A15.3 15.3 0 1 1 1023 696.4M1005.1 662.6A22.9 22.9 0 0 1 1034.2 696.4M1007.5 653.6A30.5 30.5 0 0 1 1043 696.4M1010 645.3A38.2 38.2 0 0 1 1051.3 696.4M1011.9 637.4A45.8 45.8 0 0 1 1059.4 696.4M1014.1 629.6A53.4 53.4 0 0 1 1067.3 696.4" fill="none" stroke="#111" stroke-width="2.2" stroke-linecap="round"/>
<path d="M1093.7 46.3L1118.4 25.9L1148.1 61.3L1123.7 81.6Z" fill="none" stroke="#111" stroke-width="2.6" stroke-linejoin="round"/>
<path d="M1117.5 98.1L1159.1 63.9L1175.4 82.5L1133.4 118.2Z" fill="none" stroke="#111" stroke-width="2.6" stroke-linejoin="round"/>
<path d="M1150.6 114L1175.4 94.5L1205.1 129.4L1180.3 149.7Z" fill="none" stroke="#111" stroke-width="2.6" stroke-linejoin="round"/>
<path d="M1089.2 110.8L1116.6 144A21.5 21.5 0 0 0 1089.2 110.8Z" fill="none" stroke="#111" stroke-width="2.6" stroke-linejoin="round"/>
<path d="M1113.5 158.1A54 54 0 0 1 1078.1 111.2M1101.6 164.5A64.7 64.7 0 0 1 1069 122M1090.5 169.9A75 75 0 0 1 1061.3 132.3M1079.2 175A85.8 85.8 0 0 1 1053.9 143" fill="none" stroke="#111" stroke-width="2.3" stroke-linecap="round"/>
<g opacity="0.999">
<text x="193" y="60" font-size="27.6" textLength="439" lengthAdjust="spacingAndGlyphs" xml:space="preserve">CONSTITUTION OF A NEW HABITAT</text>
<text x="203.8" y="241.2" font-size="15.1" textLength="386.2" lengthAdjust="spacingAndGlyphs" xml:space="preserve"><tspan font-size="21.5">M</tspan>ONITORING CENTER FOR HYDROGEOLOGICAL AND</text>
<text x="221" y="265.5" font-size="15.1" textLength="369" lengthAdjust="spacingAndGlyphs" xml:space="preserve">COASTAL EROSION ASSESMENT AND PREVENTION</text>
<text x="315" y="329.5" font-size="16.3" textLength="257" lengthAdjust="spacing" xml:space="preserve">NO MORE DEPOSIT MATERIALS</text>
<text x="95.5" y="357.5" font-size="16.3" textLength="476.5" lengthAdjust="spacing" xml:space="preserve">PROGRESSIVE DISMANTELLING OF THE GROUND LAYERS</text>
<text x="55.5" y="436" font-size="15.6" textLength="274.5" lengthAdjust="spacingAndGlyphs" xml:space="preserve">COLLECTION OF WASTE MATERIALS</text>
<text x="81" y="454.5" font-size="15.6" textLength="246.5" lengthAdjust="spacingAndGlyphs" xml:space="preserve">EXECUTED BY ROBOTIC SYSTEM</text>
<text x="88.8" y="508" font-size="16.1" textLength="176.2" lengthAdjust="spacing" xml:space="preserve"><tspan font-size="23.9">W</tspan>ATER COLLECTION</text>
<text x="122" y="536" font-size="16.1" textLength="143" lengthAdjust="spacing" xml:space="preserve">PLANTS FEEDING</text>
<text x="107" y="564" font-size="16.1" textLength="158" lengthAdjust="spacing" xml:space="preserve">BY DUNES SYSTEM</text>
<text x="31" y="845.3" font-size="15.6" textLength="340" lengthAdjust="spacingAndGlyphs" xml:space="preserve">DATA COLLECTION ABOUT SOIL CONDITIONS</text>
<text x="31" y="864" font-size="15.6" textLength="172" lengthAdjust="spacingAndGlyphs" xml:space="preserve">PROVIDED BY PROVES</text>
<text x="31" y="882" font-size="15.6" textLength="330" lengthAdjust="spacingAndGlyphs" xml:space="preserve">ADDRESSING ROBOTS <tspan font-size="10.4">TO</tspan> PROPER ACTIONS</text>
<text x="31" y="906" font-size="15.6" textLength="310.5" lengthAdjust="spacingAndGlyphs" xml:space="preserve">DATA  PROCESSING - ELABORATION AND</text>
<text x="31" y="924.5" font-size="15.6" textLength="246" lengthAdjust="spacingAndGlyphs" xml:space="preserve">TRANSMISSION TO THE ROBOTS</text>
<text x="917.5" y="198.7" font-size="19.8" textLength="197.5" lengthAdjust="spacing" xml:space="preserve">SATELLITE SYSTEM</text>
<text x="917.5" y="217.5" font-size="15.1" textLength="292.5" lengthAdjust="spacing" xml:space="preserve">(WORKS <tspan font-size="9.9">IN</tspan> TANDEM WITH MONITORING</text>
<text x="917.5" y="235.6" font-size="15.1" textLength="65.5" lengthAdjust="spacingAndGlyphs" xml:space="preserve">CENTER)</text>
<text x="930.6" y="310.6" font-size="16.6" textLength="247.4" lengthAdjust="spacing" xml:space="preserve">ARTIFICIAL REEF <tspan font-size="23.9">(</tspan>REEFBALL</text>
<text x="930.6" y="338.8" font-size="16.6" textLength="124.4" lengthAdjust="spacingAndGlyphs" xml:space="preserve">TECHNOLOGY<tspan font-size="23.9">)</tspan></text>
<text x="893" y="373" font-size="14.9" textLength="205.8" lengthAdjust="spacing" xml:space="preserve">MUSSELS CULTIVATION BY</text>
<text x="893" y="399.7" font-size="14.9" textLength="179" lengthAdjust="spacing" xml:space="preserve">USING SPECIAL TEXILE</text>
<text x="911" y="418.4" font-size="15.1" textLength="317" lengthAdjust="spacing" xml:space="preserve">MATERIAL DEPOSITION AIMED TO RECON-</text>
<text x="911" y="437" font-size="15.1" textLength="312.8" lengthAdjust="spacing" xml:space="preserve">STITUTE THE SUBSTRATE OF THE COAST</text>
<text x="911" y="452.8" font-size="12.5" textLength="306" lengthAdjust="spacingAndGlyphs" xml:space="preserve">(EXECUTED BY ROBOTIC SYSTEMS WORKING IN A</text>
<text x="911" y="467.5" font-size="12.5" textLength="184.6" lengthAdjust="spacingAndGlyphs" xml:space="preserve">LONG TERM SET OF ACTIONS)</text>
<text x="787" y="490.3" font-size="14" textLength="239" lengthAdjust="spacingAndGlyphs" xml:space="preserve"><tspan font-size="20.3">W</tspan>ATER COLLECTION/<tspan font-size="20.3">R</tspan>ESERVOIR</text>
<text x="768.8" y="560.7" font-size="16.1" textLength="333" lengthAdjust="spacing" xml:space="preserve">SCRUBBING ACTION BETWEEN THE SEE</text>
<text x="768.8" y="588.8" font-size="16.1" textLength="345.2" lengthAdjust="spacing" xml:space="preserve">AND THE SOIL <tspan font-size="22.9">+</tspan> ATMOSPHERIC RELATED</text>
<text x="768.8" y="616.4" font-size="16.1" textLength="253.2" lengthAdjust="spacing" xml:space="preserve">AGENTS <tspan font-size="23.4">(WIND</tspan> AND SO ON<tspan font-size="23.4">)</tspan></text>
<text x="827" y="685.8" font-size="16.8" textLength="154.4" lengthAdjust="spacing" xml:space="preserve"><tspan font-size="23.9">P</tspan>ROBES SYSTEM</text>
<text x="902.8" y="737.5" font-size="15.6" textLength="299.7" lengthAdjust="spacingAndGlyphs" xml:space="preserve">DATA COLLECTION ABOUT SOIL CONDI-</text>
<text x="902.8" y="755.7" font-size="15.6" textLength="45.7" lengthAdjust="spacingAndGlyphs" xml:space="preserve">TIONS</text>
<text x="876" y="836.7" font-size="15.6" textLength="200.7" lengthAdjust="spacingAndGlyphs" xml:space="preserve">WALLS TRANSFORMATION</text>
<text x="876" y="854.8" font-size="15.6" textLength="249" lengthAdjust="spacingAndGlyphs" xml:space="preserve">EXECUTED BY ROBOTIC SYSTEM</text>
<text x="554.4" y="893.2" font-size="16.6" textLength="288.3" lengthAdjust="spacingAndGlyphs" xml:space="preserve">IMPERMEABILIZATION OF THE SOIL</text>
<text x="554.4" y="921.3" font-size="16.6" textLength="222.6" lengthAdjust="spacingAndGlyphs" xml:space="preserve">IMPAIRMENT OF DRAINAGE</text>
<text x="554.4" y="949" font-size="23.2" textLength="189.2" lengthAdjust="spacingAndGlyphs" xml:space="preserve">LONG TIME RISK</text>
<text x="752" y="949" font-size="16.1" textLength="272" lengthAdjust="spacing" xml:space="preserve">OF HYDROGEOLOGICAL DISSEST</text>
<text x="684.5" y="235.4" font-size="16.6" textLength="197" lengthAdjust="spacingAndGlyphs" xml:space="preserve">MUSSELS SHELLS CYCLE</text>
<path id="tp1" d="M455.1 929.3A279 279 0 0 1 401.2 466.3" fill="none"/>
<text font-size="22.7" xml:space="preserve"><textPath href="#tp1" startOffset="0" textLength="463" lengthAdjust="spacingAndGlyphs">PREVENTION OF HYDROGEOLOGICAL RISK</textPath></text>
<path id="tp1b" d="M348.9 526.2A278 278 0 0 1 628.8 406.2" fill="none"/>
<text font-size="15" xml:space="preserve"><textPath href="#tp1b" startOffset="0" textLength="228" lengthAdjust="spacingAndGlyphs">RENATURALIZATION OF SLOPES</textPath></text>
<path id="tp2" d="M720.1 21.9A302.5 302.5 0 0 1 1050.2 243.7" fill="none"/>
<text font-size="16" xml:space="preserve"><textPath href="#tp2" startOffset="0" textLength="351" lengthAdjust="spacing">RISEDIMENTATION/DEPOSIT OF THE BEACH</textPath></text>
<path id="tp3" d="M795.4 163.9A159.5 159.5 0 0 1 907.5 344.6" fill="none"/>
<text font-size="11.6" xml:space="preserve"><textPath href="#tp3" startOffset="0" textLength="192.6" lengthAdjust="spacing"><tspan font-size="16">T</tspan>OURISTIC ACTIVITIES (DIVING)</textPath></text>
<text font-size="11.5" transform="translate(730 293) rotate(15)" fill="#444">feedback</text>
<text font-size="17" transform="translate(521 438) rotate(-46)">feedback</text>
<text font-size="15" transform="translate(456 440) rotate(67)">feedback</text>
</g>
</svg>
</body></html>
